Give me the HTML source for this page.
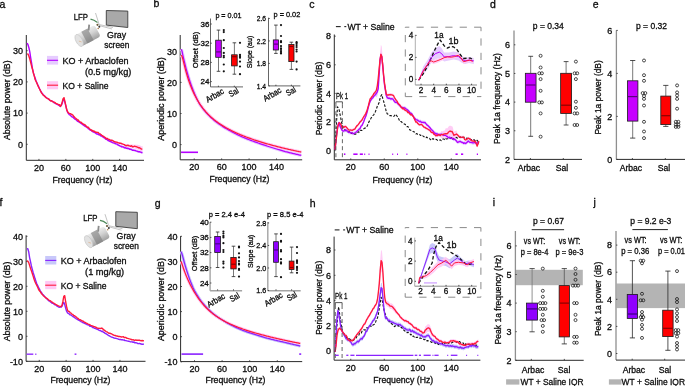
<!DOCTYPE html><html><head><meta charset="utf-8"><style>html,body{margin:0;padding:0;background:#fff;}svg{display:block;will-change:transform;}text{font-family:"Liberation Sans",sans-serif;fill:#0c0c0c;stroke:#0c0c0c;stroke-width:0.3px;}</style></head><body>
<svg width="685" height="386" viewBox="0 0 685 386">
<text x="-0.40" y="7.60" font-size="10.5" >a</text>
<text x="153.60" y="7.30" font-size="10.5" >b</text>
<text x="309.30" y="7.60" font-size="10.5" >c</text>
<text x="490.00" y="7.60" font-size="10.5" >d</text>
<text x="592.80" y="7.60" font-size="10.5" >e</text>
<text x="-0.40" y="206.00" font-size="10.5" >f</text>
<text x="154.80" y="207.00" font-size="10.5" >g</text>
<text x="309.80" y="206.50" font-size="10.5" >h</text>
<text x="492.80" y="206.00" font-size="10.5" >i</text>
<text x="593.50" y="206.00" font-size="10.5" >j</text>
<g transform="translate(0,0)">
<polygon points="106.3,10.5 127.8,11.1 127.8,27.5 106.3,25.1" fill="#a9a9a9" stroke="#3c3c3c" stroke-width="0.9"/>
<line x1="99" y1="24.5" x2="113" y2="27.5" stroke="#8a8a8a" stroke-width="0.5"/>
<line x1="99" y1="25.5" x2="112" y2="29" stroke="#8a8a8a" stroke-width="0.5"/>
<line x1="95.5" y1="13" x2="99" y2="24" stroke="#9a9a9a" stroke-width="0.6"/>
<path d="M90.5,19.2 L94,20.2 L97.5,22.5" fill="none" stroke="#4f8a5a" stroke-width="1.2"/>
<g transform="rotate(-28 87.5 36)"><defs><linearGradient id="cyl0" x1="0" y1="0" x2="0" y2="1"><stop offset="0" stop-color="#ededed"/><stop offset="0.45" stop-color="#d2d2d2"/><stop offset="1" stop-color="#a0a0a0"/></linearGradient></defs><rect x="77" y="29.4" width="22" height="13.2" rx="3" fill="url(#cyl0)"/><rect x="84" y="29.4" width="7" height="13.2" fill="#7c7c7c" opacity="0.6"/><ellipse cx="78" cy="36" rx="3.2" ry="6.6" fill="#e2e2e2" stroke="#c4c4c4" stroke-width="0.6"/><line x1="77.5" y1="36.5" x2="79.5" y2="38.5" stroke="#d9a070" stroke-width="0.5"/></g>
<line x1="88.6" y1="30.5" x2="89.2" y2="24.6" stroke="#8c8c8c" stroke-width="1.8"/>
<circle cx="97.5" cy="24.8" r="1.1" fill="#6b5a3a"/>
<circle cx="99.3" cy="26.8" r="1.0" fill="#3a3a3a"/>
<circle cx="98.2" cy="28.5" r="0.8" fill="#b08050"/>
</g>
<text x="73.70" y="19.60" font-size="8.6" textLength="14.30" lengthAdjust="spacingAndGlyphs" >LFP</text>
<text x="116.60" y="37.90" font-size="8.6" text-anchor="middle" textLength="19.10" lengthAdjust="spacingAndGlyphs" >Gray</text>
<text x="116.80" y="47.80" font-size="8.6" text-anchor="middle" textLength="25.10" lengthAdjust="spacingAndGlyphs" >screen</text>
<rect x="47.00" y="55.90" width="11.10" height="8.70" fill="#e6ccff" stroke="none" stroke-width="0.8" />
<line x1="47.00" y1="60.30" x2="58.10" y2="60.30" stroke="#b400ff" stroke-width="1.1" />
<rect x="47.00" y="81.20" width="11.10" height="8.10" fill="#ffc8f4" stroke="none" stroke-width="0.8" />
<line x1="47.00" y1="85.20" x2="58.10" y2="85.20" stroke="#ff1a3c" stroke-width="1.1" />
<text x="62.60" y="64.30" font-size="9" textLength="65.80" lengthAdjust="spacingAndGlyphs" >KO + Arbaclofen</text>
<text x="84.90" y="74.50" font-size="9" textLength="46.40" lengthAdjust="spacingAndGlyphs" >(0.5 mg/kg)</text>
<text x="62.60" y="88.60" font-size="9" textLength="45.80" lengthAdjust="spacingAndGlyphs" >KO + Saline</text>
<line x1="26.30" y1="35.00" x2="26.30" y2="160.30" stroke="#2a2a2a" stroke-width="1.0" />
<line x1="26.30" y1="144.30" x2="27.70" y2="144.30" stroke="#2a2a2a" stroke-width="0.8" />
<text x="23.10" y="147.50" font-size="9" text-anchor="end" >0</text>
<line x1="26.30" y1="113.10" x2="27.70" y2="113.10" stroke="#2a2a2a" stroke-width="0.8" />
<text x="23.10" y="116.30" font-size="9" text-anchor="end" >10</text>
<line x1="26.30" y1="81.90" x2="27.70" y2="81.90" stroke="#2a2a2a" stroke-width="0.8" />
<text x="23.10" y="85.10" font-size="9" text-anchor="end" >20</text>
<line x1="26.30" y1="50.70" x2="27.70" y2="50.70" stroke="#2a2a2a" stroke-width="0.8" />
<text x="23.10" y="53.90" font-size="9" text-anchor="end" >30</text>
<line x1="26.30" y1="160.30" x2="144.00" y2="160.30" stroke="#2a2a2a" stroke-width="1.0" />
<line x1="38.95" y1="160.30" x2="38.95" y2="158.90" stroke="#2a2a2a" stroke-width="0.8" />
<text x="38.95" y="170.90" font-size="9" text-anchor="middle" >20</text>
<line x1="65.85" y1="160.30" x2="65.85" y2="158.90" stroke="#2a2a2a" stroke-width="0.8" />
<text x="65.85" y="170.90" font-size="9" text-anchor="middle" >60</text>
<line x1="92.75" y1="160.30" x2="92.75" y2="158.90" stroke="#2a2a2a" stroke-width="0.8" />
<text x="92.75" y="170.90" font-size="9" text-anchor="middle" >100</text>
<line x1="119.65" y1="160.30" x2="119.65" y2="158.90" stroke="#2a2a2a" stroke-width="0.8" />
<text x="119.65" y="170.90" font-size="9" text-anchor="middle" >140</text>
<text x="82.50" y="183.40" font-size="8.8" text-anchor="middle" textLength="60.00" lengthAdjust="spacingAndGlyphs" >Frequency (Hz)</text>
<text x="9.70" y="100.20" font-size="9" text-anchor="middle" textLength="79.70" lengthAdjust="spacingAndGlyphs" transform="rotate(-90 9.70 100.20)" >Absolute power (dB)</text>
<polygon points="99.60,132.70 100.60,133.44 101.60,134.18 102.60,134.93 103.60,135.67 104.60,136.41 105.60,137.15 106.60,137.62 107.60,138.02 108.60,138.41 109.60,138.81 110.60,139.21 111.60,139.61 112.60,140.00 113.60,140.40 114.60,140.71 115.60,141.02 116.60,141.34 117.60,141.65 118.60,141.96 119.60,142.27 120.60,142.58 121.60,142.89 122.60,143.18 123.60,143.48 124.60,143.77 125.60,143.99 126.60,144.17 127.60,144.34 128.60,144.51 129.60,144.60 130.60,144.61 131.60,144.62 132.60,144.62 133.60,144.63 134.60,144.64 135.60,144.67 136.60,144.75 137.60,144.83 138.60,144.91 139.60,145.20 140.60,145.80 141.60,146.40 142.60,146.05 142.60,151.95 141.60,152.05 140.60,151.21 139.60,150.37 138.60,149.84 137.60,149.51 136.60,149.18 135.60,148.86 134.60,148.58 133.60,148.33 132.60,148.08 131.60,147.83 130.60,147.58 129.60,147.33 128.60,146.99 127.60,146.58 126.60,146.16 125.60,145.74 124.60,145.37 123.60,145.08 122.60,144.78 121.60,144.49 120.60,144.18 119.60,143.87 118.60,143.56 117.60,143.25 116.60,142.94 115.60,142.62 114.60,142.31 113.60,142.00 112.60,141.60 111.60,141.21 110.60,140.81 109.60,140.41 108.60,140.01 107.60,139.62 106.60,139.22 105.60,138.75 104.60,138.01 103.60,137.27 102.60,136.53 101.60,135.78 100.60,135.04 99.60,134.30" fill="#ffc8f4" opacity="1.0"/>
<polygon points="77.80,119.80 85.60,125.30 93.30,130.70 101.10,134.60 108.90,139.60 116.70,143.10 124.50,146.30 132.20,148.60 143.10,151.70 143.10,154.10 132.20,151.00 124.50,148.70 116.70,145.50 108.90,142.00 101.10,137.00 93.30,133.10 85.60,127.70 77.80,122.20" fill="#e6ccff" opacity="1.0"/>
<polyline points="27.10,43.10 28.00,44.70 28.90,47.76 29.80,51.93 30.70,57.86 31.60,63.23 32.50,68.84 33.40,72.68 34.30,75.66 35.20,78.19 36.10,80.97 37.00,82.98 37.90,85.08 38.80,86.98 39.70,89.11 40.60,90.75 41.50,92.44 42.40,93.54 43.30,94.78 44.20,95.50 45.10,96.65 46.00,97.28 46.90,98.02 47.80,98.71 48.70,99.05 49.60,100.02 50.50,100.86 51.40,100.69 52.30,101.23 53.20,101.81 54.10,102.78 55.00,103.13 55.90,103.79 56.80,104.19 57.70,104.57 58.60,105.12 59.50,105.73 60.40,106.52 61.30,105.38 62.20,103.19 63.10,99.98 64.00,99.19 64.90,102.22 65.80,105.93 66.70,109.51 67.60,112.41 68.50,113.69 69.40,114.84 70.30,114.97 71.20,116.31 72.10,117.00 73.00,117.19 73.90,118.18 74.80,119.05 75.70,119.49 76.60,120.32 77.50,121.26 78.40,121.49 79.30,122.03 80.20,122.57 81.10,123.49 82.00,123.95 82.90,124.58 83.80,125.22 84.70,126.00 85.60,126.29 86.50,126.84 87.40,127.31 88.30,128.70 89.20,129.13 90.10,130.07 91.00,130.40 91.90,130.86 92.80,131.68 93.70,132.11 94.60,132.38 95.50,132.90 96.40,133.86 97.30,133.99 98.20,134.42 99.10,134.71 100.00,135.07 100.90,135.87 101.80,136.20 102.70,136.63 103.60,137.35 104.50,137.80 105.40,138.63 106.30,139.43 107.20,139.62 108.10,140.62 109.00,140.72 109.90,141.35 110.80,141.59 111.70,142.13 112.60,142.58 113.50,142.87 114.40,143.20 115.30,143.57 116.20,143.92 117.10,144.16 118.00,144.81 118.90,145.33 119.80,145.81 120.70,146.14 121.60,146.88 122.50,146.81 123.40,147.00 124.30,147.80 125.20,147.53 126.10,148.23 127.00,148.13 127.90,148.65 128.80,148.44 129.70,149.27 130.60,149.31 131.50,149.41 132.40,150.19 133.30,150.27 134.20,150.38 135.10,150.48 136.00,150.88 136.90,151.11 137.80,151.54 138.70,151.81 139.60,151.78 140.50,152.05 141.40,152.31 142.30,152.90" fill="none" stroke="#b400ff" stroke-width="1.4" stroke-linejoin="round" />
<polyline points="27.10,54.10 28.00,54.05 28.90,56.19 29.80,59.03 30.70,62.52 31.60,66.19 32.50,69.27 33.40,73.19 34.30,76.08 35.20,79.79 36.10,81.47 37.00,83.57 37.90,85.65 38.80,87.51 39.70,89.26 40.60,91.12 41.50,92.86 42.40,93.95 43.30,95.27 44.20,95.83 45.10,96.63 46.00,97.71 46.90,98.13 47.80,98.49 48.70,99.16 49.60,99.90 50.50,100.80 51.40,100.78 52.30,101.30 53.20,102.10 54.10,102.08 55.00,102.67 55.90,103.39 56.80,103.74 57.70,104.06 58.60,104.73 59.50,104.63 60.40,106.30 61.30,104.96 62.20,102.09 63.10,98.80 64.00,97.64 64.90,101.31 65.80,105.34 66.70,109.63 67.60,111.71 68.50,112.98 69.40,113.38 70.30,113.67 71.20,114.30 72.10,114.54 73.00,115.27 73.90,116.57 74.80,117.52 75.70,118.24 76.60,118.96 77.50,120.00 78.40,120.04 79.30,121.51 80.20,122.10 81.10,122.19 82.00,123.23 82.90,123.59 83.80,124.63 84.70,124.56 85.60,125.47 86.50,126.56 87.40,127.38 88.30,127.28 89.20,128.41 90.10,129.29 91.00,129.66 91.90,130.75 92.80,130.49 93.70,131.25 94.60,131.25 95.50,132.18 96.40,132.14 97.30,132.38 98.20,132.40 99.10,133.68 100.00,133.94 100.90,134.54 101.80,135.33 102.70,135.89 103.60,136.40 104.50,137.06 105.40,137.65 106.30,138.70 107.20,138.43 108.10,139.04 109.00,139.47 109.90,139.95 110.80,140.36 111.70,140.22 112.60,140.42 113.50,141.16 114.40,141.78 115.30,141.96 116.20,142.12 117.10,142.26 118.00,142.69 118.90,142.82 119.80,143.36 120.70,143.22 121.60,143.73 122.50,143.94 123.40,144.39 124.30,144.59 125.20,145.46 126.10,145.47 127.00,145.73 127.90,145.10 128.80,145.74 129.70,145.86 130.60,146.30 131.50,145.72 132.40,146.68 133.30,146.74 134.20,146.24 135.10,146.43 136.00,146.60 136.90,146.94 137.80,147.24 138.70,147.82 139.60,147.67 140.50,148.53 141.40,149.12 142.30,149.00" fill="none" stroke="#ff1a3c" stroke-width="1.4" stroke-linejoin="round" />
<g transform="translate(9.5,201.2)">
<polygon points="106.3,10.5 127.8,11.1 127.8,27.5 106.3,25.1" fill="#a9a9a9" stroke="#3c3c3c" stroke-width="0.9"/>
<line x1="99" y1="24.5" x2="113" y2="27.5" stroke="#8a8a8a" stroke-width="0.5"/>
<line x1="99" y1="25.5" x2="112" y2="29" stroke="#8a8a8a" stroke-width="0.5"/>
<line x1="95.5" y1="13" x2="99" y2="24" stroke="#9a9a9a" stroke-width="0.6"/>
<path d="M90.5,19.2 L94,20.2 L97.5,22.5" fill="none" stroke="#4f8a5a" stroke-width="1.2"/>
<g transform="rotate(-28 87.5 36)"><defs><linearGradient id="cyl201" x1="0" y1="0" x2="0" y2="1"><stop offset="0" stop-color="#ededed"/><stop offset="0.45" stop-color="#d2d2d2"/><stop offset="1" stop-color="#a0a0a0"/></linearGradient></defs><rect x="77" y="29.4" width="22" height="13.2" rx="3" fill="url(#cyl201)"/><rect x="84" y="29.4" width="7" height="13.2" fill="#7c7c7c" opacity="0.6"/><ellipse cx="78" cy="36" rx="3.2" ry="6.6" fill="#e2e2e2" stroke="#c4c4c4" stroke-width="0.6"/><line x1="77.5" y1="36.5" x2="79.5" y2="38.5" stroke="#d9a070" stroke-width="0.5"/></g>
<line x1="88.6" y1="30.5" x2="89.2" y2="24.6" stroke="#8c8c8c" stroke-width="1.8"/>
<circle cx="97.5" cy="24.8" r="1.1" fill="#6b5a3a"/>
<circle cx="99.3" cy="26.8" r="1.0" fill="#3a3a3a"/>
<circle cx="98.2" cy="28.5" r="0.8" fill="#b08050"/>
</g>
<text x="83.20" y="220.80" font-size="8.6" textLength="14.30" lengthAdjust="spacingAndGlyphs" >LFP</text>
<text x="126.10" y="239.10" font-size="8.6" text-anchor="middle" textLength="19.10" lengthAdjust="spacingAndGlyphs" >Gray</text>
<text x="126.30" y="249.00" font-size="8.6" text-anchor="middle" textLength="25.10" lengthAdjust="spacingAndGlyphs" >screen</text>
<rect x="45.20" y="256.00" width="11.10" height="8.50" fill="#c8c8fa" stroke="none" stroke-width="0.8" />
<line x1="45.20" y1="260.40" x2="56.30" y2="260.40" stroke="#8a22ff" stroke-width="1.1" />
<rect x="45.20" y="280.90" width="11.10" height="8.30" fill="#ffc8f4" stroke="none" stroke-width="0.8" />
<line x1="45.20" y1="285.20" x2="56.30" y2="285.20" stroke="#ff1a3c" stroke-width="1.1" />
<text x="60.70" y="264.30" font-size="9" textLength="65.80" lengthAdjust="spacingAndGlyphs" >KO + Arbaclofen</text>
<text x="85.10" y="275.00" font-size="9" textLength="39.00" lengthAdjust="spacingAndGlyphs" >(1 mg/kg)</text>
<text x="60.70" y="289.20" font-size="9" textLength="45.80" lengthAdjust="spacingAndGlyphs" >KO + Saline</text>
<line x1="26.10" y1="235.30" x2="26.10" y2="361.30" stroke="#2a2a2a" stroke-width="1.0" />
<line x1="26.10" y1="361.30" x2="27.50" y2="361.30" stroke="#2a2a2a" stroke-width="0.8" />
<text x="22.90" y="364.50" font-size="9" text-anchor="end" >-10</text>
<line x1="26.10" y1="336.30" x2="27.50" y2="336.30" stroke="#2a2a2a" stroke-width="0.8" />
<text x="22.90" y="339.50" font-size="9" text-anchor="end" >0</text>
<line x1="26.10" y1="311.30" x2="27.50" y2="311.30" stroke="#2a2a2a" stroke-width="0.8" />
<text x="22.90" y="314.50" font-size="9" text-anchor="end" >10</text>
<line x1="26.10" y1="286.30" x2="27.50" y2="286.30" stroke="#2a2a2a" stroke-width="0.8" />
<text x="22.90" y="289.50" font-size="9" text-anchor="end" >20</text>
<line x1="26.10" y1="261.30" x2="27.50" y2="261.30" stroke="#2a2a2a" stroke-width="0.8" />
<text x="22.90" y="264.50" font-size="9" text-anchor="end" >30</text>
<line x1="26.10" y1="236.30" x2="27.50" y2="236.30" stroke="#2a2a2a" stroke-width="0.8" />
<text x="22.90" y="239.50" font-size="9" text-anchor="end" >40</text>
<line x1="26.10" y1="361.30" x2="145.50" y2="361.30" stroke="#2a2a2a" stroke-width="1.0" />
<line x1="39.25" y1="361.30" x2="39.25" y2="359.90" stroke="#2a2a2a" stroke-width="0.8" />
<text x="39.25" y="371.90" font-size="9" text-anchor="middle" >20</text>
<line x1="66.15" y1="361.30" x2="66.15" y2="359.90" stroke="#2a2a2a" stroke-width="0.8" />
<text x="66.15" y="371.90" font-size="9" text-anchor="middle" >60</text>
<line x1="93.05" y1="361.30" x2="93.05" y2="359.90" stroke="#2a2a2a" stroke-width="0.8" />
<text x="93.05" y="371.90" font-size="9" text-anchor="middle" >100</text>
<line x1="119.95" y1="361.30" x2="119.95" y2="359.90" stroke="#2a2a2a" stroke-width="0.8" />
<text x="119.95" y="371.90" font-size="9" text-anchor="middle" >140</text>
<text x="80.40" y="383.40" font-size="8.8" text-anchor="middle" textLength="60.00" lengthAdjust="spacingAndGlyphs" >Frequency (Hz)</text>
<text x="9.70" y="301.50" font-size="9" text-anchor="middle" textLength="79.70" lengthAdjust="spacingAndGlyphs" transform="rotate(-90 9.70 301.50)" >Absolute power (dB)</text>
<polyline points="26.90,248.90 27.80,248.71 28.70,251.80 29.60,257.57 30.50,261.71 31.40,265.95 32.30,269.39 33.20,272.73 34.10,275.37 35.00,278.57 35.90,281.17 36.80,283.76 37.70,285.64 38.60,287.68 39.50,289.10 40.40,291.47 41.30,292.06 42.20,293.92 43.10,294.77 44.00,295.72 44.90,296.76 45.80,297.70 46.70,298.79 47.60,299.55 48.50,300.68 49.40,300.77 50.30,301.82 51.20,302.28 52.10,303.22 53.00,303.20 53.90,304.09 54.80,304.71 55.70,304.87 56.60,305.88 57.50,306.23 58.40,306.88 59.30,307.27 60.20,307.13 61.10,307.15 62.00,306.29 62.90,303.78 63.80,302.29 64.70,304.58 65.60,307.87 66.50,310.95 67.40,312.66 68.30,313.48 69.20,313.98 70.10,314.90 71.00,314.98 71.90,315.68 72.80,316.48 73.70,316.85 74.60,317.59 75.50,318.26 76.40,318.97 77.30,319.09 78.20,320.15 79.10,320.31 80.00,320.91 80.90,321.53 81.80,321.98 82.70,322.53 83.60,322.83 84.50,323.25 85.40,323.77 86.30,323.95 87.20,324.83 88.10,324.87 89.00,325.20 89.90,326.29 90.80,326.29 91.70,326.52 92.60,327.57 93.50,327.59 94.40,328.33 95.30,328.42 96.20,329.00 97.10,329.16 98.00,329.55 98.90,330.14 99.80,330.58 100.70,330.80 101.60,331.44 102.50,331.27 103.40,332.28 104.30,332.61 105.20,333.36 106.10,333.74 107.00,334.36 107.90,335.07 108.80,335.50 109.70,336.17 110.60,336.43 111.50,337.18 112.40,337.29 113.30,337.60 114.20,338.08 115.10,338.23 116.00,338.39 116.90,338.64 117.80,338.87 118.70,339.32 119.60,339.45 120.50,339.54 121.40,339.80 122.30,339.70 123.20,340.10 124.10,339.91 125.00,340.66 125.90,340.61 126.80,340.84 127.70,341.13 128.60,341.21 129.50,341.37 130.40,341.85 131.30,341.83 132.20,341.82 133.10,342.27 134.00,342.03 134.90,342.88 135.80,342.69 136.70,342.91 137.60,343.53 138.50,343.68 139.40,343.45 140.30,343.73 141.20,343.99 142.10,344.29 143.00,344.10 143.90,344.30" fill="none" stroke="#8a22ff" stroke-width="1.4" stroke-linejoin="round" />
<polyline points="26.90,261.00 27.80,261.17 28.70,262.58 29.60,265.39 30.50,268.34 31.40,270.89 32.30,273.53 33.20,276.38 34.10,279.31 35.00,281.80 35.90,283.72 36.80,285.44 37.70,287.32 38.60,289.49 39.50,290.76 40.40,291.79 41.30,293.40 42.20,294.31 43.10,295.39 44.00,296.25 44.90,296.94 45.80,297.87 46.70,298.38 47.60,298.91 48.50,299.75 49.40,300.49 50.30,300.64 51.20,301.56 52.10,302.03 53.00,302.80 53.90,303.15 54.80,303.96 55.70,304.46 56.60,304.92 57.50,305.28 58.40,305.88 59.30,306.14 60.20,306.35 61.10,306.66 62.00,305.35 62.90,301.43 63.80,296.27 64.70,295.68 65.60,301.49 66.50,306.13 67.40,309.85 68.30,311.27 69.20,311.54 70.10,312.49 71.00,313.17 71.90,314.13 72.80,314.41 73.70,315.47 74.60,315.77 75.50,316.56 76.40,317.06 77.30,318.11 78.20,318.50 79.10,319.43 80.00,319.62 80.90,320.19 81.80,320.72 82.70,320.95 83.60,321.56 84.50,322.34 85.40,322.48 86.30,323.07 87.20,323.48 88.10,324.06 89.00,324.31 89.90,324.79 90.80,325.29 91.70,325.67 92.60,325.89 93.50,326.64 94.40,326.59 95.30,326.99 96.20,327.34 97.10,328.14 98.00,328.19 98.90,328.32 99.80,328.37 100.70,328.52 101.60,328.05 102.50,328.41 103.40,329.74 104.30,330.13 105.20,330.89 106.10,331.51 107.00,331.95 107.90,332.50 108.80,333.22 109.70,333.26 110.60,333.52 111.50,333.80 112.40,334.51 113.30,334.85 114.20,335.32 115.10,335.50 116.00,335.79 116.90,336.00 117.80,336.23 118.70,336.49 119.60,336.46 120.50,336.62 121.40,337.04 122.30,336.85 123.20,336.59 124.10,337.46 125.00,337.44 125.90,337.50 126.80,338.20 127.70,338.36 128.60,338.56 129.50,338.86 130.40,339.07 131.30,339.50 132.20,339.91 133.10,339.77 134.00,340.06 134.90,340.45 135.80,339.93 136.70,340.31 137.60,340.27 138.50,340.20 139.40,340.27 140.30,340.54 141.20,340.69 142.10,340.56 143.00,340.74 143.90,340.80" fill="none" stroke="#ff1a3c" stroke-width="1.4" stroke-linejoin="round" />
<line x1="26.60" y1="354.20" x2="33.30" y2="354.20" stroke="#9a3cff" stroke-width="1.5" />
<line x1="35.20" y1="354.20" x2="36.40" y2="354.20" stroke="#9a3cff" stroke-width="1.5" />
<line x1="74.60" y1="354.20" x2="76.40" y2="354.20" stroke="#9a3cff" stroke-width="1.6" />
<line x1="180.20" y1="35.00" x2="180.20" y2="159.80" stroke="#2a2a2a" stroke-width="1.0" />
<line x1="180.20" y1="144.60" x2="181.60" y2="144.60" stroke="#2a2a2a" stroke-width="0.8" />
<text x="177.00" y="147.80" font-size="9" text-anchor="end" >0</text>
<line x1="180.20" y1="113.50" x2="181.60" y2="113.50" stroke="#2a2a2a" stroke-width="0.8" />
<text x="177.00" y="116.70" font-size="9" text-anchor="end" >10</text>
<line x1="180.20" y1="82.40" x2="181.60" y2="82.40" stroke="#2a2a2a" stroke-width="0.8" />
<text x="177.00" y="85.60" font-size="9" text-anchor="end" >20</text>
<line x1="180.20" y1="51.30" x2="181.60" y2="51.30" stroke="#2a2a2a" stroke-width="0.8" />
<text x="177.00" y="54.50" font-size="9" text-anchor="end" >30</text>
<line x1="180.20" y1="159.80" x2="302.20" y2="159.80" stroke="#2a2a2a" stroke-width="1.0" />
<line x1="194.22" y1="159.80" x2="194.22" y2="158.40" stroke="#2a2a2a" stroke-width="0.8" />
<text x="194.22" y="170.40" font-size="9" text-anchor="middle" >20</text>
<line x1="221.65" y1="159.80" x2="221.65" y2="158.40" stroke="#2a2a2a" stroke-width="0.8" />
<text x="221.65" y="170.40" font-size="9" text-anchor="middle" >60</text>
<line x1="249.08" y1="159.80" x2="249.08" y2="158.40" stroke="#2a2a2a" stroke-width="0.8" />
<text x="249.08" y="170.40" font-size="9" text-anchor="middle" >100</text>
<line x1="276.51" y1="159.80" x2="276.51" y2="158.40" stroke="#2a2a2a" stroke-width="0.8" />
<text x="276.51" y="170.40" font-size="9" text-anchor="middle" >140</text>
<text x="239.40" y="182.40" font-size="8.8" text-anchor="middle" textLength="60.00" lengthAdjust="spacingAndGlyphs" >Frequency (Hz)</text>
<text x="164.40" y="99.00" font-size="9" text-anchor="middle" textLength="83.50" lengthAdjust="spacingAndGlyphs" transform="rotate(-90 164.40 99.00)" >Aperiodic power (dB)</text>
<polyline points="181.30,49.29 182.10,51.56 182.90,55.32 183.70,58.80 184.50,62.19 185.30,65.46 186.10,68.56 186.90,71.50 187.70,74.26 188.50,76.87 189.30,79.39 190.10,81.86 190.90,84.21 191.70,86.45 192.50,88.59 193.30,90.63 194.10,92.59 194.90,94.47 195.70,96.28 196.50,98.01 197.30,99.69 198.10,101.28 198.90,102.69 199.70,104.05 200.50,105.29 201.30,106.45 202.10,107.56 202.90,108.63 203.70,109.66 204.50,110.65 205.30,111.60 206.10,112.53 206.90,113.42 207.70,114.28 208.50,115.11 209.30,115.91 210.10,116.69 210.90,117.45 211.70,118.18 212.50,118.89 213.30,119.58 214.10,120.25 214.90,120.90 215.70,121.54 216.50,122.16 217.30,122.76 218.10,123.35 218.90,123.92 219.70,124.49 220.50,125.03 221.30,125.57 222.10,126.10 222.90,126.61 223.70,127.11 224.50,127.61 225.30,128.09 226.10,128.56 226.90,129.03 227.70,129.48 228.50,129.93 229.30,130.37 230.10,130.81 230.90,131.25 231.70,131.69 232.50,132.12 233.30,132.55 234.10,132.97 234.90,133.38 235.70,133.79 236.50,134.19 237.30,134.58 238.10,134.97 238.90,135.35 239.70,135.73 240.50,136.11 241.30,136.48 242.10,136.84 242.90,137.20 243.70,137.54 244.50,137.87 245.30,138.20 246.10,138.53 246.90,138.85 247.70,139.16 248.50,139.48 249.30,139.79 250.10,140.09 250.90,140.39 251.70,140.69 252.50,140.99 253.30,141.28 254.10,141.57 254.90,141.86 255.70,142.14 256.50,142.43 257.30,142.71 258.10,143.00 258.90,143.28 259.70,143.56 260.50,143.83 261.30,144.10 262.10,144.37 262.90,144.64 263.70,144.91 264.50,145.17 265.30,145.43 266.10,145.70 266.90,145.97 267.70,146.23 268.50,146.49 269.30,146.75 270.10,147.01 270.90,147.27 271.70,147.52 272.50,147.77 273.30,148.02 274.10,148.27 274.90,148.52 275.70,148.76 276.50,149.01 277.30,149.25 278.10,149.49 278.90,149.72 279.70,149.96 280.50,150.20 281.30,150.43 282.10,150.66 282.90,150.89 283.70,151.12 284.50,151.35 285.30,151.57 286.10,151.77 286.90,151.97 287.70,152.17 288.50,152.37 289.30,152.57 290.10,152.77 290.90,152.96 291.70,153.15 292.50,153.35 293.30,153.54 294.10,153.73 294.90,153.92 295.70,154.11 296.50,154.29 297.30,154.48 298.10,154.67 298.90,154.85 299.70,155.03 300.50,155.21 301.30,155.39" fill="none" stroke="#e6ccff" stroke-width="3.2" stroke-linejoin="round" />
<polyline points="181.30,55.09 182.10,56.51 182.90,59.42 183.70,62.69 184.50,65.94 185.30,69.08 186.10,72.05 186.90,74.85 187.70,77.48 188.50,79.96 189.30,82.29 190.10,84.49 190.90,86.58 191.70,88.55 192.50,90.42 193.30,92.20 194.10,93.89 194.90,95.50 195.70,97.04 196.50,98.51 197.30,99.92 198.10,101.27 198.90,102.56 199.70,103.79 200.50,104.98 201.30,106.12 202.10,107.21 202.90,108.27 203.70,109.28 204.50,110.26 205.30,111.20 206.10,112.11 206.90,112.98 207.70,113.82 208.50,114.64 209.30,115.43 210.10,116.19 210.90,116.93 211.70,117.64 212.50,118.34 213.30,119.01 214.10,119.67 214.90,120.30 215.70,120.92 216.50,121.53 217.30,122.11 218.10,122.69 218.90,123.25 219.70,123.79 220.50,124.32 221.30,124.84 222.10,125.35 222.90,125.85 223.70,126.34 224.50,126.82 225.30,127.28 226.10,127.74 226.90,128.19 227.70,128.63 228.50,129.06 229.30,129.49 230.10,129.90 230.90,130.31 231.70,130.71 232.50,131.11 233.30,131.50 234.10,131.88 234.90,132.25 235.70,132.62 236.50,132.99 237.30,133.34 238.10,133.70 238.90,134.04 239.70,134.39 240.50,134.72 241.30,135.06 242.10,135.38 242.90,135.71 243.70,136.02 244.50,136.34 245.30,136.65 246.10,136.96 246.90,137.26 247.70,137.56 248.50,137.85 249.30,138.14 250.10,138.43 250.90,138.71 251.70,138.99 252.50,139.27 253.30,139.54 254.10,139.82 254.90,140.08 255.70,140.35 256.50,140.61 257.30,140.87 258.10,141.13 258.90,141.38 259.70,141.63 260.50,141.88 261.30,142.13 262.10,142.37 262.90,142.61 263.70,142.85 264.50,143.09 265.30,143.32 266.10,143.55 266.90,143.78 267.70,144.01 268.50,144.24 269.30,144.46 270.10,144.68 270.90,144.90 271.70,145.12 272.50,145.34 273.30,145.55 274.10,145.76 274.90,145.97 275.70,146.18 276.50,146.39 277.30,146.59 278.10,146.80 278.90,147.00 279.70,147.20 280.50,147.40 281.30,147.60 282.10,147.79 282.90,147.99 283.70,148.18 284.50,148.37 285.30,148.56 286.10,148.75 286.90,148.94 287.70,149.12 288.50,149.31 289.30,149.49 290.10,149.67 290.90,149.85 291.70,150.03 292.50,150.21 293.30,150.39 294.10,150.56 294.90,150.74 295.70,150.91 296.50,151.09 297.30,151.26 298.10,151.43 298.90,151.60 299.70,151.76 300.50,151.93 301.30,152.10" fill="none" stroke="#ffc8f4" stroke-width="3.2" stroke-linejoin="round" />
<polyline points="181.30,49.29 182.10,51.56 182.90,55.32 183.70,58.80 184.50,62.19 185.30,65.46 186.10,68.56 186.90,71.50 187.70,74.26 188.50,76.87 189.30,79.39 190.10,81.86 190.90,84.21 191.70,86.45 192.50,88.59 193.30,90.63 194.10,92.59 194.90,94.47 195.70,96.28 196.50,98.01 197.30,99.69 198.10,101.28 198.90,102.69 199.70,104.05 200.50,105.29 201.30,106.45 202.10,107.56 202.90,108.63 203.70,109.66 204.50,110.65 205.30,111.60 206.10,112.53 206.90,113.42 207.70,114.28 208.50,115.11 209.30,115.91 210.10,116.69 210.90,117.45 211.70,118.18 212.50,118.89 213.30,119.58 214.10,120.25 214.90,120.90 215.70,121.54 216.50,122.16 217.30,122.76 218.10,123.35 218.90,123.92 219.70,124.49 220.50,125.03 221.30,125.57 222.10,126.10 222.90,126.61 223.70,127.11 224.50,127.61 225.30,128.09 226.10,128.56 226.90,129.03 227.70,129.48 228.50,129.93 229.30,130.37 230.10,130.81 230.90,131.25 231.70,131.69 232.50,132.12 233.30,132.55 234.10,132.97 234.90,133.38 235.70,133.79 236.50,134.19 237.30,134.58 238.10,134.97 238.90,135.35 239.70,135.73 240.50,136.11 241.30,136.48 242.10,136.84 242.90,137.20 243.70,137.54 244.50,137.87 245.30,138.20 246.10,138.53 246.90,138.85 247.70,139.16 248.50,139.48 249.30,139.79 250.10,140.09 250.90,140.39 251.70,140.69 252.50,140.99 253.30,141.28 254.10,141.57 254.90,141.86 255.70,142.14 256.50,142.43 257.30,142.71 258.10,143.00 258.90,143.28 259.70,143.56 260.50,143.83 261.30,144.10 262.10,144.37 262.90,144.64 263.70,144.91 264.50,145.17 265.30,145.43 266.10,145.70 266.90,145.97 267.70,146.23 268.50,146.49 269.30,146.75 270.10,147.01 270.90,147.27 271.70,147.52 272.50,147.77 273.30,148.02 274.10,148.27 274.90,148.52 275.70,148.76 276.50,149.01 277.30,149.25 278.10,149.49 278.90,149.72 279.70,149.96 280.50,150.20 281.30,150.43 282.10,150.66 282.90,150.89 283.70,151.12 284.50,151.35 285.30,151.57 286.10,151.77 286.90,151.97 287.70,152.17 288.50,152.37 289.30,152.57 290.10,152.77 290.90,152.96 291.70,153.15 292.50,153.35 293.30,153.54 294.10,153.73 294.90,153.92 295.70,154.11 296.50,154.29 297.30,154.48 298.10,154.67 298.90,154.85 299.70,155.03 300.50,155.21 301.30,155.39" fill="none" stroke="#b400ff" stroke-width="1.25" stroke-linejoin="round" />
<polyline points="181.30,55.09 182.10,56.51 182.90,59.42 183.70,62.69 184.50,65.94 185.30,69.08 186.10,72.05 186.90,74.85 187.70,77.48 188.50,79.96 189.30,82.29 190.10,84.49 190.90,86.58 191.70,88.55 192.50,90.42 193.30,92.20 194.10,93.89 194.90,95.50 195.70,97.04 196.50,98.51 197.30,99.92 198.10,101.27 198.90,102.56 199.70,103.79 200.50,104.98 201.30,106.12 202.10,107.21 202.90,108.27 203.70,109.28 204.50,110.26 205.30,111.20 206.10,112.11 206.90,112.98 207.70,113.82 208.50,114.64 209.30,115.43 210.10,116.19 210.90,116.93 211.70,117.64 212.50,118.34 213.30,119.01 214.10,119.67 214.90,120.30 215.70,120.92 216.50,121.53 217.30,122.11 218.10,122.69 218.90,123.25 219.70,123.79 220.50,124.32 221.30,124.84 222.10,125.35 222.90,125.85 223.70,126.34 224.50,126.82 225.30,127.28 226.10,127.74 226.90,128.19 227.70,128.63 228.50,129.06 229.30,129.49 230.10,129.90 230.90,130.31 231.70,130.71 232.50,131.11 233.30,131.50 234.10,131.88 234.90,132.25 235.70,132.62 236.50,132.99 237.30,133.34 238.10,133.70 238.90,134.04 239.70,134.39 240.50,134.72 241.30,135.06 242.10,135.38 242.90,135.71 243.70,136.02 244.50,136.34 245.30,136.65 246.10,136.96 246.90,137.26 247.70,137.56 248.50,137.85 249.30,138.14 250.10,138.43 250.90,138.71 251.70,138.99 252.50,139.27 253.30,139.54 254.10,139.82 254.90,140.08 255.70,140.35 256.50,140.61 257.30,140.87 258.10,141.13 258.90,141.38 259.70,141.63 260.50,141.88 261.30,142.13 262.10,142.37 262.90,142.61 263.70,142.85 264.50,143.09 265.30,143.32 266.10,143.55 266.90,143.78 267.70,144.01 268.50,144.24 269.30,144.46 270.10,144.68 270.90,144.90 271.70,145.12 272.50,145.34 273.30,145.55 274.10,145.76 274.90,145.97 275.70,146.18 276.50,146.39 277.30,146.59 278.10,146.80 278.90,147.00 279.70,147.20 280.50,147.40 281.30,147.60 282.10,147.79 282.90,147.99 283.70,148.18 284.50,148.37 285.30,148.56 286.10,148.75 286.90,148.94 287.70,149.12 288.50,149.31 289.30,149.49 290.10,149.67 290.90,149.85 291.70,150.03 292.50,150.21 293.30,150.39 294.10,150.56 294.90,150.74 295.70,150.91 296.50,151.09 297.30,151.26 298.10,151.43 298.90,151.60 299.70,151.76 300.50,151.93 301.30,152.10" fill="none" stroke="#ff1a3c" stroke-width="1.25" stroke-linejoin="round" />
<line x1="181.00" y1="152.30" x2="198.00" y2="152.30" stroke="#b400ff" stroke-width="1.6" />
<line x1="210.50" y1="18.50" x2="210.50" y2="86.90" stroke="#555" stroke-width="0.9" />
<line x1="210.50" y1="86.90" x2="243.00" y2="86.90" stroke="#555" stroke-width="0.9" />
<line x1="210.50" y1="81.60" x2="211.80" y2="81.60" stroke="#2a2a2a" stroke-width="0.8" />
<text x="209.40" y="84.30" font-size="8.0" text-anchor="end" >24</text>
<line x1="210.50" y1="62.40" x2="211.80" y2="62.40" stroke="#2a2a2a" stroke-width="0.8" />
<text x="209.40" y="65.10" font-size="8.0" text-anchor="end" >28</text>
<line x1="210.50" y1="43.20" x2="211.80" y2="43.20" stroke="#2a2a2a" stroke-width="0.8" />
<text x="209.40" y="45.90" font-size="8.0" text-anchor="end" >32</text>
<line x1="210.50" y1="24.00" x2="211.80" y2="24.00" stroke="#2a2a2a" stroke-width="0.8" />
<text x="209.40" y="26.70" font-size="8.0" text-anchor="end" >36</text>
<text x="198.00" y="50.00" font-size="7.8" text-anchor="middle" textLength="36.40" lengthAdjust="spacingAndGlyphs" transform="rotate(-90 198.00 50.00)" >Offset (dB)</text>
<text x="228.45" y="17.80" font-size="8.0" text-anchor="middle" textLength="26.10" lengthAdjust="spacingAndGlyphs" >p = 0.01</text>
<line x1="218.50" y1="30.10" x2="218.50" y2="40.20" stroke="#555" stroke-width="0.8" />
<line x1="218.50" y1="57.30" x2="218.50" y2="71.30" stroke="#555" stroke-width="0.8" />
<line x1="216.70" y1="30.10" x2="220.30" y2="30.10" stroke="#222" stroke-width="0.8" />
<line x1="216.70" y1="71.30" x2="220.30" y2="71.30" stroke="#222" stroke-width="0.8" />
<rect x="215.70" y="40.20" width="5.60" height="17.10" fill="#c600ff" stroke="#1a1a1a" stroke-width="0.8" />
<line x1="216.10" y1="51.90" x2="220.90" y2="51.90" stroke="#5a007f" stroke-width="1.2" />
<line x1="234.40" y1="42.80" x2="234.40" y2="54.80" stroke="#555" stroke-width="0.8" />
<line x1="234.40" y1="65.90" x2="234.40" y2="74.20" stroke="#555" stroke-width="0.8" />
<line x1="232.60" y1="42.80" x2="236.20" y2="42.80" stroke="#222" stroke-width="0.8" />
<line x1="232.60" y1="74.20" x2="236.20" y2="74.20" stroke="#222" stroke-width="0.8" />
<rect x="231.60" y="54.80" width="5.60" height="11.10" fill="#ff0000" stroke="#1a1a1a" stroke-width="0.8" />
<line x1="232.00" y1="56.70" x2="236.80" y2="56.70" stroke="#8a0000" stroke-width="1.2" />
<circle cx="223.80" cy="30.10" r="1.1" fill="#111"/>
<circle cx="223.80" cy="32.10" r="1.1" fill="#111"/>
<circle cx="223.80" cy="40.20" r="1.1" fill="#111"/>
<circle cx="223.80" cy="48.00" r="1.1" fill="#111"/>
<circle cx="223.80" cy="52.90" r="1.1" fill="#111"/>
<circle cx="223.80" cy="55.80" r="1.1" fill="#111"/>
<circle cx="223.80" cy="57.30" r="1.1" fill="#111"/>
<circle cx="223.80" cy="64.50" r="1.1" fill="#111"/>
<circle cx="223.80" cy="71.30" r="1.1" fill="#111"/>
<circle cx="240.00" cy="42.80" r="1.1" fill="#111"/>
<circle cx="240.00" cy="54.80" r="1.1" fill="#111"/>
<circle cx="240.00" cy="56.20" r="1.1" fill="#111"/>
<circle cx="240.00" cy="57.70" r="1.1" fill="#111"/>
<circle cx="240.00" cy="61.60" r="1.1" fill="#111"/>
<circle cx="240.00" cy="66.50" r="1.1" fill="#111"/>
<circle cx="240.00" cy="74.20" r="1.1" fill="#111"/>
<line x1="218.40" y1="86.90" x2="218.40" y2="85.70" stroke="#2a2a2a" stroke-width="0.8" />
<line x1="234.30" y1="86.90" x2="234.30" y2="85.70" stroke="#2a2a2a" stroke-width="0.8" />
<line x1="268.50" y1="17.70" x2="268.50" y2="85.90" stroke="#555" stroke-width="0.9" />
<line x1="268.50" y1="85.90" x2="300.40" y2="85.90" stroke="#555" stroke-width="0.9" />
<line x1="268.50" y1="85.90" x2="269.80" y2="85.90" stroke="#2a2a2a" stroke-width="0.8" />
<text x="266.10" y="88.60" font-size="8.0" text-anchor="end" textLength="9.30" lengthAdjust="spacingAndGlyphs" >1.4</text>
<line x1="268.50" y1="63.42" x2="269.80" y2="63.42" stroke="#2a2a2a" stroke-width="0.8" />
<text x="266.10" y="66.12" font-size="8.0" text-anchor="end" textLength="9.30" lengthAdjust="spacingAndGlyphs" >1.8</text>
<line x1="268.50" y1="40.94" x2="269.80" y2="40.94" stroke="#2a2a2a" stroke-width="0.8" />
<text x="266.10" y="43.64" font-size="8.0" text-anchor="end" textLength="9.30" lengthAdjust="spacingAndGlyphs" >2.2</text>
<line x1="268.50" y1="18.46" x2="269.80" y2="18.46" stroke="#2a2a2a" stroke-width="0.8" />
<text x="266.10" y="21.16" font-size="8.0" text-anchor="end" textLength="9.30" lengthAdjust="spacingAndGlyphs" >2.6</text>
<text x="251.60" y="52.00" font-size="7.8" text-anchor="middle" textLength="32.50" lengthAdjust="spacingAndGlyphs" transform="rotate(-90 251.60 52.00)" >Slope (au)</text>
<text x="286.90" y="16.80" font-size="8.0" text-anchor="middle" textLength="26.80" lengthAdjust="spacingAndGlyphs" >p = 0.02</text>
<line x1="275.90" y1="25.10" x2="275.90" y2="39.90" stroke="#555" stroke-width="0.8" />
<line x1="275.90" y1="50.00" x2="275.90" y2="53.40" stroke="#555" stroke-width="0.8" />
<line x1="274.10" y1="25.10" x2="277.70" y2="25.10" stroke="#222" stroke-width="0.8" />
<line x1="274.10" y1="53.40" x2="277.70" y2="53.40" stroke="#222" stroke-width="0.8" />
<rect x="273.30" y="39.90" width="5.20" height="10.10" fill="#c600ff" stroke="#1a1a1a" stroke-width="0.8" />
<line x1="273.70" y1="44.10" x2="278.10" y2="44.10" stroke="#5a007f" stroke-width="1.2" />
<line x1="291.40" y1="42.20" x2="291.40" y2="44.50" stroke="#555" stroke-width="0.8" />
<line x1="291.40" y1="61.60" x2="291.40" y2="69.40" stroke="#555" stroke-width="0.8" />
<line x1="289.60" y1="42.20" x2="293.20" y2="42.20" stroke="#222" stroke-width="0.8" />
<line x1="289.60" y1="69.40" x2="293.20" y2="69.40" stroke="#222" stroke-width="0.8" />
<rect x="288.80" y="44.50" width="5.20" height="17.10" fill="#ff0000" stroke="#1a1a1a" stroke-width="0.8" />
<line x1="289.20" y1="46.50" x2="293.60" y2="46.50" stroke="#8a0000" stroke-width="1.2" />
<circle cx="281.00" cy="25.10" r="1.1" fill="#111"/>
<circle cx="281.00" cy="36.00" r="1.1" fill="#111"/>
<circle cx="281.00" cy="41.20" r="1.1" fill="#111"/>
<circle cx="281.00" cy="42.20" r="1.1" fill="#111"/>
<circle cx="281.00" cy="46.10" r="1.1" fill="#111"/>
<circle cx="281.00" cy="48.40" r="1.1" fill="#111"/>
<circle cx="281.00" cy="50.00" r="1.1" fill="#111"/>
<circle cx="281.00" cy="51.90" r="1.1" fill="#111"/>
<circle cx="281.00" cy="53.40" r="1.1" fill="#111"/>
<circle cx="296.60" cy="42.20" r="1.1" fill="#111"/>
<circle cx="296.60" cy="43.20" r="1.1" fill="#111"/>
<circle cx="296.60" cy="45.10" r="1.1" fill="#111"/>
<circle cx="296.60" cy="47.00" r="1.1" fill="#111"/>
<circle cx="296.60" cy="49.60" r="1.1" fill="#111"/>
<circle cx="296.60" cy="51.50" r="1.1" fill="#111"/>
<circle cx="296.60" cy="61.60" r="1.1" fill="#111"/>
<circle cx="296.60" cy="69.40" r="1.1" fill="#111"/>
<line x1="275.90" y1="85.90" x2="275.90" y2="84.70" stroke="#2a2a2a" stroke-width="0.8" />
<line x1="291.40" y1="85.90" x2="291.40" y2="84.70" stroke="#2a2a2a" stroke-width="0.8" />
<text x="224.60" y="93.00" font-size="8.5" text-anchor="end" textLength="19.50" lengthAdjust="spacingAndGlyphs" transform="rotate(-30 224.60 93.00)" >Arbac</text>
<text x="239.30" y="92.30" font-size="8.5" text-anchor="end" textLength="10.00" lengthAdjust="spacingAndGlyphs" transform="rotate(-30 239.30 92.30)" >Sal</text>
<text x="282.10" y="92.00" font-size="8.5" text-anchor="end" textLength="19.50" lengthAdjust="spacingAndGlyphs" transform="rotate(-30 282.10 92.00)" >Arbac</text>
<text x="296.70" y="91.30" font-size="8.5" text-anchor="end" textLength="10.00" lengthAdjust="spacingAndGlyphs" transform="rotate(-30 296.70 91.30)" >Sal</text>
<line x1="180.60" y1="236.10" x2="180.60" y2="361.60" stroke="#2a2a2a" stroke-width="1.0" />
<line x1="180.60" y1="361.80" x2="182.00" y2="361.80" stroke="#2a2a2a" stroke-width="0.8" />
<text x="177.40" y="365.00" font-size="9" text-anchor="end" >-10</text>
<line x1="180.60" y1="336.70" x2="182.00" y2="336.70" stroke="#2a2a2a" stroke-width="0.8" />
<text x="177.40" y="339.90" font-size="9" text-anchor="end" >0</text>
<line x1="180.60" y1="311.60" x2="182.00" y2="311.60" stroke="#2a2a2a" stroke-width="0.8" />
<text x="177.40" y="314.80" font-size="9" text-anchor="end" >10</text>
<line x1="180.60" y1="286.50" x2="182.00" y2="286.50" stroke="#2a2a2a" stroke-width="0.8" />
<text x="177.40" y="289.70" font-size="9" text-anchor="end" >20</text>
<line x1="180.60" y1="261.40" x2="182.00" y2="261.40" stroke="#2a2a2a" stroke-width="0.8" />
<text x="177.40" y="264.60" font-size="9" text-anchor="end" >30</text>
<line x1="180.60" y1="236.30" x2="182.00" y2="236.30" stroke="#2a2a2a" stroke-width="0.8" />
<text x="177.40" y="239.50" font-size="9" text-anchor="end" >40</text>
<line x1="180.60" y1="361.60" x2="302.20" y2="361.60" stroke="#2a2a2a" stroke-width="1.0" />
<line x1="194.50" y1="361.60" x2="194.50" y2="360.20" stroke="#2a2a2a" stroke-width="0.8" />
<text x="194.50" y="372.20" font-size="9" text-anchor="middle" >20</text>
<line x1="222.10" y1="361.60" x2="222.10" y2="360.20" stroke="#2a2a2a" stroke-width="0.8" />
<text x="222.10" y="372.20" font-size="9" text-anchor="middle" >60</text>
<line x1="249.70" y1="361.60" x2="249.70" y2="360.20" stroke="#2a2a2a" stroke-width="0.8" />
<text x="249.70" y="372.20" font-size="9" text-anchor="middle" >100</text>
<line x1="277.30" y1="361.60" x2="277.30" y2="360.20" stroke="#2a2a2a" stroke-width="0.8" />
<text x="277.30" y="372.20" font-size="9" text-anchor="middle" >140</text>
<text x="235.40" y="383.30" font-size="8.8" text-anchor="middle" textLength="60.00" lengthAdjust="spacingAndGlyphs" >Frequency (Hz)</text>
<text x="164.40" y="299.60" font-size="9" text-anchor="middle" textLength="83.00" lengthAdjust="spacingAndGlyphs" transform="rotate(-90 164.40 299.60)" >Aperiodic power (dB)</text>
<polyline points="181.10,251.59 181.90,253.78 182.70,256.29 183.50,259.44 184.30,262.49 185.10,265.35 185.90,268.01 186.70,270.57 187.50,273.05 188.30,275.42 189.10,277.72 189.90,279.96 190.70,282.07 191.50,284.04 192.30,285.95 193.10,287.82 193.90,289.42 194.70,290.95 195.50,292.39 196.30,293.76 197.10,295.09 197.90,296.37 198.70,297.62 199.50,298.83 200.30,299.97 201.10,301.03 201.90,302.06 202.70,303.06 203.50,304.02 204.30,304.96 205.10,305.86 205.90,306.74 206.70,307.59 207.50,308.42 208.30,309.22 209.10,310.00 209.90,310.75 210.70,311.48 211.50,312.18 212.30,312.87 213.10,313.53 213.90,314.18 214.70,314.81 215.50,315.42 216.30,316.02 217.10,316.60 217.90,317.16 218.70,317.71 219.50,318.25 220.30,318.77 221.10,319.28 221.90,319.78 222.70,320.29 223.50,320.79 224.30,321.28 225.10,321.76 225.90,322.23 226.70,322.69 227.50,323.14 228.30,323.59 229.10,324.03 229.90,324.46 230.70,324.87 231.50,325.27 232.30,325.67 233.10,326.06 233.90,326.44 234.70,326.82 235.50,327.19 236.30,327.56 237.10,327.92 237.90,328.28 238.70,328.63 239.50,328.97 240.30,329.32 241.10,329.65 241.90,329.99 242.70,330.32 243.50,330.64 244.30,330.94 245.10,331.22 245.90,331.51 246.70,331.79 247.50,332.07 248.30,332.35 249.10,332.62 249.90,332.89 250.70,333.15 251.50,333.42 252.30,333.68 253.10,333.93 253.90,334.19 254.70,334.44 255.50,334.69 256.30,334.94 257.10,335.19 257.90,335.44 258.70,335.70 259.50,335.95 260.30,336.19 261.10,336.44 261.90,336.68 262.70,336.93 263.50,337.17 264.30,337.41 265.10,337.64 265.90,337.85 266.70,338.06 267.50,338.26 268.30,338.47 269.10,338.67 269.90,338.87 270.70,339.07 271.50,339.27 272.30,339.47 273.10,339.66 273.90,339.85 274.70,340.05 275.50,340.24 276.30,340.43 277.10,340.62 277.90,340.80 278.70,340.99 279.50,341.18 280.30,341.36 281.10,341.54 281.90,341.72 282.70,341.90 283.50,342.08 284.30,342.26 285.10,342.44 285.90,342.64 286.70,342.83 287.50,343.03 288.30,343.22 289.10,343.42 289.90,343.61 290.70,343.80 291.50,343.99 292.30,344.18 293.10,344.37 293.90,344.56 294.70,344.74 295.50,344.93 296.30,345.12 297.10,345.30 297.90,345.48 298.70,345.67 299.50,345.85 300.30,346.03" fill="none" stroke="#c8c8fa" stroke-width="3.0" stroke-linejoin="round" />
<polyline points="181.10,261.59 181.90,263.73 182.70,266.09 183.50,268.44 184.30,270.69 185.10,272.85 185.90,274.91 186.70,276.87 187.50,278.75 188.30,280.54 189.10,282.26 189.90,283.92 190.70,285.51 191.50,287.05 192.30,288.54 193.10,289.97 193.90,291.37 194.70,292.71 195.50,294.02 196.30,295.28 197.10,296.49 197.90,297.67 198.70,298.80 199.50,299.90 200.30,300.96 201.10,301.98 201.90,302.97 202.70,303.92 203.50,304.85 204.30,305.74 205.10,306.61 205.90,307.45 206.70,308.26 207.50,309.04 208.30,309.80 209.10,310.54 209.90,311.26 210.70,311.95 211.50,312.62 212.30,313.27 213.10,313.91 213.90,314.52 214.70,315.12 215.50,315.69 216.30,316.26 217.10,316.80 217.90,317.33 218.70,317.85 219.50,318.35 220.30,318.84 221.10,319.32 221.90,319.78 222.70,320.23 223.50,320.67 224.30,321.10 225.10,321.52 225.90,321.94 226.70,322.34 227.50,322.73 228.30,323.12 229.10,323.49 229.90,323.86 230.70,324.23 231.50,324.58 232.30,324.93 233.10,325.27 233.90,325.61 234.70,325.94 235.50,326.26 236.30,326.58 237.10,326.90 237.90,327.21 238.70,327.51 239.50,327.81 240.30,328.11 241.10,328.40 241.90,328.68 242.70,328.97 243.50,329.24 244.30,329.52 245.10,329.79 245.90,330.06 246.70,330.32 247.50,330.58 248.30,330.84 249.10,331.09 249.90,331.34 250.70,331.59 251.50,331.84 252.30,332.08 253.10,332.32 253.90,332.56 254.70,332.79 255.50,333.02 256.30,333.25 257.10,333.48 257.90,333.71 258.70,333.93 259.50,334.15 260.30,334.37 261.10,334.58 261.90,334.80 262.70,335.01 263.50,335.22 264.30,335.43 265.10,335.64 265.90,335.84 266.70,336.05 267.50,336.25 268.30,336.45 269.10,336.65 269.90,336.85 270.70,337.04 271.50,337.24 272.30,337.43 273.10,337.62 273.90,337.81 274.70,338.00 275.50,338.19 276.30,338.37 277.10,338.56 277.90,338.74 278.70,338.92 279.50,339.10 280.30,339.28 281.10,339.46 281.90,339.64 282.70,339.81 283.50,339.99 284.30,340.16 285.10,340.34 285.90,340.51 286.70,340.68 287.50,340.85 288.30,341.02 289.10,341.19 289.90,341.36 290.70,341.52 291.50,341.69 292.30,341.85 293.10,342.02 293.90,342.18 294.70,342.34 295.50,342.50 296.30,342.66 297.10,342.82 297.90,342.98 298.70,343.14 299.50,343.30 300.30,343.45" fill="none" stroke="#ffc8f4" stroke-width="3.0" stroke-linejoin="round" />
<polyline points="181.10,251.59 181.90,253.78 182.70,256.29 183.50,259.44 184.30,262.49 185.10,265.35 185.90,268.01 186.70,270.57 187.50,273.05 188.30,275.42 189.10,277.72 189.90,279.96 190.70,282.07 191.50,284.04 192.30,285.95 193.10,287.82 193.90,289.42 194.70,290.95 195.50,292.39 196.30,293.76 197.10,295.09 197.90,296.37 198.70,297.62 199.50,298.83 200.30,299.97 201.10,301.03 201.90,302.06 202.70,303.06 203.50,304.02 204.30,304.96 205.10,305.86 205.90,306.74 206.70,307.59 207.50,308.42 208.30,309.22 209.10,310.00 209.90,310.75 210.70,311.48 211.50,312.18 212.30,312.87 213.10,313.53 213.90,314.18 214.70,314.81 215.50,315.42 216.30,316.02 217.10,316.60 217.90,317.16 218.70,317.71 219.50,318.25 220.30,318.77 221.10,319.28 221.90,319.78 222.70,320.29 223.50,320.79 224.30,321.28 225.10,321.76 225.90,322.23 226.70,322.69 227.50,323.14 228.30,323.59 229.10,324.03 229.90,324.46 230.70,324.87 231.50,325.27 232.30,325.67 233.10,326.06 233.90,326.44 234.70,326.82 235.50,327.19 236.30,327.56 237.10,327.92 237.90,328.28 238.70,328.63 239.50,328.97 240.30,329.32 241.10,329.65 241.90,329.99 242.70,330.32 243.50,330.64 244.30,330.94 245.10,331.22 245.90,331.51 246.70,331.79 247.50,332.07 248.30,332.35 249.10,332.62 249.90,332.89 250.70,333.15 251.50,333.42 252.30,333.68 253.10,333.93 253.90,334.19 254.70,334.44 255.50,334.69 256.30,334.94 257.10,335.19 257.90,335.44 258.70,335.70 259.50,335.95 260.30,336.19 261.10,336.44 261.90,336.68 262.70,336.93 263.50,337.17 264.30,337.41 265.10,337.64 265.90,337.85 266.70,338.06 267.50,338.26 268.30,338.47 269.10,338.67 269.90,338.87 270.70,339.07 271.50,339.27 272.30,339.47 273.10,339.66 273.90,339.85 274.70,340.05 275.50,340.24 276.30,340.43 277.10,340.62 277.90,340.80 278.70,340.99 279.50,341.18 280.30,341.36 281.10,341.54 281.90,341.72 282.70,341.90 283.50,342.08 284.30,342.26 285.10,342.44 285.90,342.64 286.70,342.83 287.50,343.03 288.30,343.22 289.10,343.42 289.90,343.61 290.70,343.80 291.50,343.99 292.30,344.18 293.10,344.37 293.90,344.56 294.70,344.74 295.50,344.93 296.30,345.12 297.10,345.30 297.90,345.48 298.70,345.67 299.50,345.85 300.30,346.03" fill="none" stroke="#8a22ff" stroke-width="1.25" stroke-linejoin="round" />
<polyline points="181.10,261.59 181.90,263.73 182.70,266.09 183.50,268.44 184.30,270.69 185.10,272.85 185.90,274.91 186.70,276.87 187.50,278.75 188.30,280.54 189.10,282.26 189.90,283.92 190.70,285.51 191.50,287.05 192.30,288.54 193.10,289.97 193.90,291.37 194.70,292.71 195.50,294.02 196.30,295.28 197.10,296.49 197.90,297.67 198.70,298.80 199.50,299.90 200.30,300.96 201.10,301.98 201.90,302.97 202.70,303.92 203.50,304.85 204.30,305.74 205.10,306.61 205.90,307.45 206.70,308.26 207.50,309.04 208.30,309.80 209.10,310.54 209.90,311.26 210.70,311.95 211.50,312.62 212.30,313.27 213.10,313.91 213.90,314.52 214.70,315.12 215.50,315.69 216.30,316.26 217.10,316.80 217.90,317.33 218.70,317.85 219.50,318.35 220.30,318.84 221.10,319.32 221.90,319.78 222.70,320.23 223.50,320.67 224.30,321.10 225.10,321.52 225.90,321.94 226.70,322.34 227.50,322.73 228.30,323.12 229.10,323.49 229.90,323.86 230.70,324.23 231.50,324.58 232.30,324.93 233.10,325.27 233.90,325.61 234.70,325.94 235.50,326.26 236.30,326.58 237.10,326.90 237.90,327.21 238.70,327.51 239.50,327.81 240.30,328.11 241.10,328.40 241.90,328.68 242.70,328.97 243.50,329.24 244.30,329.52 245.10,329.79 245.90,330.06 246.70,330.32 247.50,330.58 248.30,330.84 249.10,331.09 249.90,331.34 250.70,331.59 251.50,331.84 252.30,332.08 253.10,332.32 253.90,332.56 254.70,332.79 255.50,333.02 256.30,333.25 257.10,333.48 257.90,333.71 258.70,333.93 259.50,334.15 260.30,334.37 261.10,334.58 261.90,334.80 262.70,335.01 263.50,335.22 264.30,335.43 265.10,335.64 265.90,335.84 266.70,336.05 267.50,336.25 268.30,336.45 269.10,336.65 269.90,336.85 270.70,337.04 271.50,337.24 272.30,337.43 273.10,337.62 273.90,337.81 274.70,338.00 275.50,338.19 276.30,338.37 277.10,338.56 277.90,338.74 278.70,338.92 279.50,339.10 280.30,339.28 281.10,339.46 281.90,339.64 282.70,339.81 283.50,339.99 284.30,340.16 285.10,340.34 285.90,340.51 286.70,340.68 287.50,340.85 288.30,341.02 289.10,341.19 289.90,341.36 290.70,341.52 291.50,341.69 292.30,341.85 293.10,342.02 293.90,342.18 294.70,342.34 295.50,342.50 296.30,342.66 297.10,342.82 297.90,342.98 298.70,343.14 299.50,343.30 300.30,343.45" fill="none" stroke="#ff1a3c" stroke-width="1.25" stroke-linejoin="round" />
<line x1="181.50" y1="354.10" x2="203.10" y2="354.10" stroke="#8a22ff" stroke-width="1.6" />
<line x1="299.20" y1="354.10" x2="301.20" y2="354.10" stroke="#8a22ff" stroke-width="1.6" />
<line x1="210.10" y1="222.00" x2="210.10" y2="290.70" stroke="#a4a4a4" stroke-width="1.4" />
<line x1="210.10" y1="290.70" x2="242.10" y2="290.70" stroke="#a4a4a4" stroke-width="1.4" />
<line x1="210.10" y1="283.00" x2="211.40" y2="283.00" stroke="#2a2a2a" stroke-width="0.8" />
<text x="208.80" y="285.70" font-size="8.0" text-anchor="end" >24</text>
<line x1="210.10" y1="267.80" x2="211.40" y2="267.80" stroke="#2a2a2a" stroke-width="0.8" />
<text x="208.80" y="270.50" font-size="8.0" text-anchor="end" >28</text>
<line x1="210.10" y1="252.60" x2="211.40" y2="252.60" stroke="#2a2a2a" stroke-width="0.8" />
<text x="208.80" y="255.30" font-size="8.0" text-anchor="end" >32</text>
<line x1="210.10" y1="237.40" x2="211.40" y2="237.40" stroke="#2a2a2a" stroke-width="0.8" />
<text x="208.80" y="240.10" font-size="8.0" text-anchor="end" >36</text>
<line x1="210.10" y1="222.20" x2="211.40" y2="222.20" stroke="#2a2a2a" stroke-width="0.8" />
<text x="208.80" y="224.90" font-size="8.0" text-anchor="end" >40</text>
<text x="197.00" y="253.50" font-size="7.8" text-anchor="middle" textLength="35.60" lengthAdjust="spacingAndGlyphs" transform="rotate(-90 197.00 253.50)" >Offset (dB)</text>
<text x="226.80" y="217.30" font-size="8.0" text-anchor="middle" textLength="36.30" lengthAdjust="spacingAndGlyphs" >p = 2.4 e-4</text>
<line x1="217.60" y1="232.00" x2="217.60" y2="236.40" stroke="#555" stroke-width="0.8" />
<line x1="217.60" y1="252.60" x2="217.60" y2="267.50" stroke="#555" stroke-width="0.8" />
<line x1="215.80" y1="232.00" x2="219.40" y2="232.00" stroke="#222" stroke-width="0.8" />
<line x1="215.80" y1="267.50" x2="219.40" y2="267.50" stroke="#222" stroke-width="0.8" />
<rect x="214.70" y="236.40" width="5.80" height="16.20" fill="#9000ff" stroke="#1a1a1a" stroke-width="0.8" />
<line x1="215.10" y1="243.80" x2="220.10" y2="243.80" stroke="#4a0090" stroke-width="1.2" />
<line x1="233.50" y1="246.20" x2="233.50" y2="257.40" stroke="#555" stroke-width="0.8" />
<line x1="233.50" y1="268.90" x2="233.50" y2="276.60" stroke="#555" stroke-width="0.8" />
<line x1="231.70" y1="246.20" x2="235.30" y2="246.20" stroke="#222" stroke-width="0.8" />
<line x1="231.70" y1="276.60" x2="235.30" y2="276.60" stroke="#222" stroke-width="0.8" />
<rect x="230.80" y="257.40" width="5.40" height="11.50" fill="#ff0000" stroke="#1a1a1a" stroke-width="0.8" />
<line x1="231.20" y1="264.20" x2="235.80" y2="264.20" stroke="#8a0000" stroke-width="1.2" />
<circle cx="223.40" cy="231.60" r="1.1" fill="#111"/>
<circle cx="223.40" cy="233.50" r="1.1" fill="#111"/>
<circle cx="223.40" cy="235.90" r="1.1" fill="#111"/>
<circle cx="223.40" cy="237.40" r="1.1" fill="#111"/>
<circle cx="223.40" cy="243.20" r="1.1" fill="#111"/>
<circle cx="223.40" cy="250.00" r="1.1" fill="#111"/>
<circle cx="223.40" cy="252.00" r="1.1" fill="#111"/>
<circle cx="223.40" cy="261.70" r="1.1" fill="#111"/>
<circle cx="223.40" cy="263.60" r="1.1" fill="#111"/>
<circle cx="223.40" cy="267.50" r="1.1" fill="#111"/>
<circle cx="239.00" cy="246.70" r="1.1" fill="#111"/>
<circle cx="239.00" cy="247.50" r="1.1" fill="#111"/>
<circle cx="239.00" cy="253.30" r="1.1" fill="#111"/>
<circle cx="239.00" cy="257.40" r="1.1" fill="#111"/>
<circle cx="239.00" cy="261.10" r="1.1" fill="#111"/>
<circle cx="239.00" cy="263.60" r="1.1" fill="#111"/>
<circle cx="239.00" cy="264.60" r="1.1" fill="#111"/>
<circle cx="239.00" cy="268.90" r="1.1" fill="#111"/>
<circle cx="239.00" cy="270.00" r="1.1" fill="#111"/>
<circle cx="239.00" cy="276.60" r="1.1" fill="#111"/>
<line x1="217.60" y1="290.50" x2="217.60" y2="289.30" stroke="#2a2a2a" stroke-width="0.8" />
<line x1="233.50" y1="290.50" x2="233.50" y2="289.30" stroke="#2a2a2a" stroke-width="0.8" />
<line x1="267.80" y1="222.00" x2="267.80" y2="290.70" stroke="#a4a4a4" stroke-width="1.4" />
<line x1="267.80" y1="290.70" x2="300.70" y2="290.70" stroke="#a4a4a4" stroke-width="1.4" />
<line x1="267.80" y1="290.50" x2="269.10" y2="290.50" stroke="#2a2a2a" stroke-width="0.8" />
<text x="266.30" y="293.20" font-size="8.0" text-anchor="end" textLength="10.00" lengthAdjust="spacingAndGlyphs" >1.6</text>
<line x1="267.80" y1="267.98" x2="269.10" y2="267.98" stroke="#2a2a2a" stroke-width="0.8" />
<text x="266.30" y="270.68" font-size="8.0" text-anchor="end" textLength="10.00" lengthAdjust="spacingAndGlyphs" >2.0</text>
<line x1="267.80" y1="245.46" x2="269.10" y2="245.46" stroke="#2a2a2a" stroke-width="0.8" />
<text x="266.30" y="248.16" font-size="8.0" text-anchor="end" textLength="10.00" lengthAdjust="spacingAndGlyphs" >2.4</text>
<line x1="267.80" y1="222.94" x2="269.10" y2="222.94" stroke="#2a2a2a" stroke-width="0.8" />
<text x="266.30" y="225.64" font-size="8.0" text-anchor="end" textLength="10.00" lengthAdjust="spacingAndGlyphs" >2.8</text>
<text x="253.00" y="251.40" font-size="7.8" text-anchor="middle" textLength="33.20" lengthAdjust="spacingAndGlyphs" transform="rotate(-90 253.00 251.40)" >Slope (au)</text>
<text x="285.20" y="217.30" font-size="8.0" text-anchor="middle" textLength="36.30" lengthAdjust="spacingAndGlyphs" >p = 8.5 e-4</text>
<line x1="276.00" y1="233.90" x2="276.00" y2="241.70" stroke="#555" stroke-width="0.8" />
<line x1="276.00" y1="262.30" x2="276.00" y2="276.60" stroke="#555" stroke-width="0.8" />
<line x1="274.20" y1="233.90" x2="277.80" y2="233.90" stroke="#222" stroke-width="0.8" />
<line x1="274.20" y1="276.60" x2="277.80" y2="276.60" stroke="#222" stroke-width="0.8" />
<rect x="273.60" y="241.70" width="4.80" height="20.60" fill="#9000ff" stroke="#1a1a1a" stroke-width="0.8" />
<line x1="274.00" y1="250.00" x2="278.00" y2="250.00" stroke="#4a0090" stroke-width="1.2" />
<line x1="291.60" y1="247.10" x2="291.60" y2="261.10" stroke="#555" stroke-width="0.8" />
<line x1="291.60" y1="269.50" x2="291.60" y2="272.80" stroke="#555" stroke-width="0.8" />
<line x1="289.80" y1="247.10" x2="293.40" y2="247.10" stroke="#222" stroke-width="0.8" />
<line x1="289.80" y1="272.80" x2="293.40" y2="272.80" stroke="#222" stroke-width="0.8" />
<rect x="289.20" y="261.10" width="4.80" height="8.40" fill="#ff0000" stroke="#1a1a1a" stroke-width="0.8" />
<line x1="289.60" y1="267.50" x2="293.60" y2="267.50" stroke="#8a0000" stroke-width="1.2" />
<circle cx="281.00" cy="233.90" r="1.1" fill="#111"/>
<circle cx="281.00" cy="240.90" r="1.1" fill="#111"/>
<circle cx="281.00" cy="241.70" r="1.1" fill="#111"/>
<circle cx="281.00" cy="250.00" r="1.1" fill="#111"/>
<circle cx="281.00" cy="251.40" r="1.1" fill="#111"/>
<circle cx="281.00" cy="259.20" r="1.1" fill="#111"/>
<circle cx="281.00" cy="262.30" r="1.1" fill="#111"/>
<circle cx="281.00" cy="263.60" r="1.1" fill="#111"/>
<circle cx="281.00" cy="277.20" r="1.1" fill="#111"/>
<circle cx="297.00" cy="247.10" r="1.1" fill="#111"/>
<circle cx="297.00" cy="253.00" r="1.1" fill="#111"/>
<circle cx="297.00" cy="260.30" r="1.1" fill="#111"/>
<circle cx="297.00" cy="261.70" r="1.1" fill="#111"/>
<circle cx="297.00" cy="263.00" r="1.1" fill="#111"/>
<circle cx="297.00" cy="266.90" r="1.1" fill="#111"/>
<circle cx="297.00" cy="268.10" r="1.1" fill="#111"/>
<circle cx="297.00" cy="270.00" r="1.1" fill="#111"/>
<circle cx="297.00" cy="272.80" r="1.1" fill="#111"/>
<line x1="276.00" y1="290.50" x2="276.00" y2="289.30" stroke="#2a2a2a" stroke-width="0.8" />
<line x1="291.60" y1="290.50" x2="291.60" y2="289.30" stroke="#2a2a2a" stroke-width="0.8" />
<text x="225.80" y="297.90" font-size="8.5" text-anchor="end" textLength="19.50" lengthAdjust="spacingAndGlyphs" transform="rotate(-30 225.80 297.90)" >Arbac</text>
<text x="240.30" y="297.20" font-size="8.5" text-anchor="end" textLength="10.00" lengthAdjust="spacingAndGlyphs" transform="rotate(-30 240.30 297.20)" >Sal</text>
<text x="283.30" y="296.90" font-size="8.5" text-anchor="end" textLength="19.50" lengthAdjust="spacingAndGlyphs" transform="rotate(-30 283.30 296.90)" >Arbac</text>
<text x="297.70" y="296.20" font-size="8.5" text-anchor="end" textLength="10.00" lengthAdjust="spacingAndGlyphs" transform="rotate(-30 297.70 296.20)" >Sal</text>
<line x1="334.30" y1="34.50" x2="334.30" y2="159.80" stroke="#2a2a2a" stroke-width="1.0" />
<line x1="334.30" y1="150.60" x2="335.70" y2="150.60" stroke="#2a2a2a" stroke-width="0.8" />
<text x="331.10" y="153.80" font-size="9" text-anchor="end" >0</text>
<line x1="334.30" y1="122.00" x2="335.70" y2="122.00" stroke="#2a2a2a" stroke-width="0.8" />
<text x="331.10" y="125.20" font-size="9" text-anchor="end" >2</text>
<line x1="334.30" y1="93.40" x2="335.70" y2="93.40" stroke="#2a2a2a" stroke-width="0.8" />
<text x="331.10" y="96.60" font-size="9" text-anchor="end" >4</text>
<line x1="334.30" y1="64.80" x2="335.70" y2="64.80" stroke="#2a2a2a" stroke-width="0.8" />
<text x="331.10" y="68.00" font-size="9" text-anchor="end" >6</text>
<line x1="334.30" y1="36.20" x2="335.70" y2="36.20" stroke="#2a2a2a" stroke-width="0.8" />
<text x="331.10" y="39.40" font-size="9" text-anchor="end" >8</text>
<line x1="334.30" y1="159.80" x2="481.00" y2="159.80" stroke="#2a2a2a" stroke-width="1.0" />
<line x1="350.75" y1="159.80" x2="350.75" y2="158.40" stroke="#2a2a2a" stroke-width="0.8" />
<text x="350.75" y="170.40" font-size="9" text-anchor="middle" >20</text>
<line x1="384.25" y1="159.80" x2="384.25" y2="158.40" stroke="#2a2a2a" stroke-width="0.8" />
<text x="384.25" y="170.40" font-size="9" text-anchor="middle" >60</text>
<line x1="417.75" y1="159.80" x2="417.75" y2="158.40" stroke="#2a2a2a" stroke-width="0.8" />
<text x="417.75" y="170.40" font-size="9" text-anchor="middle" >100</text>
<line x1="451.25" y1="159.80" x2="451.25" y2="158.40" stroke="#2a2a2a" stroke-width="0.8" />
<text x="451.25" y="170.40" font-size="9" text-anchor="middle" >140</text>
<text x="402.40" y="182.90" font-size="8.8" text-anchor="middle" textLength="60.00" lengthAdjust="spacingAndGlyphs" >Frequency (Hz)</text>
<text x="321.60" y="98.40" font-size="9" text-anchor="middle" textLength="73.50" lengthAdjust="spacingAndGlyphs" transform="rotate(-90 321.60 98.40)" >Periodic power (dB)</text>
<line x1="335.90" y1="26.60" x2="340.70" y2="26.60" stroke="#222" stroke-width="1.1" />
<line x1="344.30" y1="26.60" x2="346.30" y2="26.60" stroke="#222" stroke-width="1.1" />
<text x="347.40" y="29.80" font-size="9" textLength="47.20" lengthAdjust="spacingAndGlyphs" >WT + Saline</text>
<polygon points="335.00,147.80 335.90,139.41 336.80,131.49 337.70,125.59 338.60,120.96 339.50,122.63 340.40,125.49 341.30,126.86 342.20,128.77 343.10,129.49 344.00,128.91 344.90,128.85 345.80,127.94 346.70,129.12 347.60,129.22 348.50,130.56 349.40,130.57 350.30,130.91 351.20,130.87 352.10,131.43 353.00,131.77 353.90,131.74 354.80,131.18 355.70,130.70 356.60,129.89 357.50,128.99 358.40,128.20 359.30,127.15 360.20,126.57 361.10,124.26 362.00,123.63 362.90,121.64 363.80,119.65 364.70,116.91 365.60,114.88 366.50,112.39 367.40,109.21 368.30,105.51 369.20,102.29 370.10,99.71 371.00,98.10 371.90,96.64 372.80,96.06 373.70,94.57 374.60,93.70 375.50,92.71 376.40,88.96 377.30,87.52 378.20,84.42 379.10,71.24 380.00,56.07 380.90,50.33 381.80,52.54 382.70,60.67 383.60,71.69 384.50,80.56 385.40,85.73 386.30,91.12 387.20,95.68 388.10,96.52 389.00,96.23 389.90,96.61 390.80,97.18 391.70,96.95 392.60,97.02 393.50,98.03 394.40,99.62 395.30,100.51 396.20,100.42 397.10,100.92 398.00,102.09 398.90,102.95 399.80,103.81 400.70,104.87 401.60,105.64 402.50,105.67 403.40,106.18 404.30,105.97 405.20,106.32 406.10,107.19 407.00,107.72 407.90,108.41 408.80,109.40 409.70,110.49 410.60,111.53 411.50,111.67 412.40,113.06 413.30,114.64 414.20,116.13 415.10,116.72 416.00,118.13 416.90,118.03 417.80,118.57 418.70,119.22 419.60,119.85 420.50,119.45 421.40,120.57 422.30,120.52 423.20,120.49 424.10,120.93 425.00,120.53 425.90,121.90 426.80,123.02 427.70,123.54 428.60,124.50 429.50,125.39 430.40,126.37 431.30,127.74 432.20,128.40 433.10,129.34 434.00,130.48 434.90,131.68 435.80,131.49 436.70,132.44 437.60,132.11 438.50,133.04 439.40,132.70 440.30,132.83 441.20,132.39 442.10,132.37 443.00,133.37 443.90,133.65 444.80,133.41 445.70,133.55 446.60,134.57 447.50,134.71 448.40,136.06 449.30,135.37 450.20,135.84 451.10,136.42 452.00,136.25 452.90,136.65 453.80,137.67 454.70,137.39 455.60,138.29 456.50,139.13 457.40,140.54 458.30,140.26 459.20,139.82 460.10,139.46 461.00,140.16 461.90,140.63 462.80,140.71 463.70,141.60 464.60,141.07 465.50,141.65 466.40,141.09 467.30,140.26 468.20,139.13 469.10,139.95 470.00,140.50 470.90,140.58 471.80,140.66 472.70,141.03 473.60,141.04 474.50,140.63 475.40,141.10 476.30,141.75 477.20,140.90 478.10,141.32 479.00,141.30 479.00,144.90 478.10,144.92 477.20,144.50 476.30,145.35 475.40,144.70 474.50,144.23 473.60,144.64 472.70,144.63 471.80,144.26 470.90,144.18 470.00,144.10 469.10,143.55 468.20,142.73 467.30,143.86 466.40,144.69 465.50,145.25 464.60,144.67 463.70,145.20 462.80,144.31 461.90,144.23 461.00,143.76 460.10,143.06 459.20,143.42 458.30,143.86 457.40,144.14 456.50,142.73 455.60,141.89 454.70,140.99 453.80,141.27 452.90,140.25 452.00,139.85 451.10,140.02 450.20,139.44 449.30,138.97 448.40,139.66 447.50,138.31 446.60,138.17 445.70,137.15 444.80,137.01 443.90,137.25 443.00,136.97 442.10,135.97 441.20,135.99 440.30,136.43 439.40,136.30 438.50,136.64 437.60,135.71 436.70,136.04 435.80,135.09 434.90,135.28 434.00,134.08 433.10,132.94 432.20,132.00 431.30,131.34 430.40,129.97 429.50,128.99 428.60,128.10 427.70,127.14 426.80,126.62 425.90,125.50 425.00,124.13 424.10,124.53 423.20,124.09 422.30,124.12 421.40,124.17 420.50,123.05 419.60,123.45 418.70,122.82 417.80,122.17 416.90,121.63 416.00,121.73 415.10,120.32 414.20,119.73 413.30,118.24 412.40,116.66 411.50,115.27 410.60,115.13 409.70,114.09 408.80,113.00 407.90,112.01 407.00,111.32 406.10,110.79 405.20,109.92 404.30,109.57 403.40,109.78 402.50,109.27 401.60,109.24 400.70,108.47 399.80,107.41 398.90,106.55 398.00,105.69 397.10,104.52 396.20,104.02 395.30,104.11 394.40,103.22 393.50,101.63 392.60,100.62 391.70,100.55 390.80,100.78 389.90,100.21 389.00,99.83 388.10,100.12 387.20,99.28 386.30,99.72 385.40,94.33 384.50,89.16 383.60,80.29 382.70,69.27 381.80,61.14 380.90,58.93 380.00,64.67 379.10,79.84 378.20,93.02 377.30,96.12 376.40,97.56 375.50,96.31 374.60,97.30 373.70,98.17 372.80,99.66 371.90,100.24 371.00,101.70 370.10,103.31 369.20,105.89 368.30,109.11 367.40,112.81 366.50,115.99 365.60,118.48 364.70,120.51 363.80,123.25 362.90,125.24 362.00,127.23 361.10,127.86 360.20,130.17 359.30,130.75 358.40,131.80 357.50,132.59 356.60,133.49 355.70,134.30 354.80,134.78 353.90,135.34 353.00,135.37 352.10,135.03 351.20,134.47 350.30,134.51 349.40,134.17 348.50,134.16 347.60,132.82 346.70,132.72 345.80,131.54 344.90,132.45 344.00,132.51 343.10,133.09 342.20,132.37 341.30,130.46 340.40,129.09 339.50,126.23 338.60,124.56 337.70,129.19 336.80,135.09 335.90,143.01 335.00,151.40" fill="#e6ccff" opacity="1.0"/>
<polygon points="335.00,148.10 335.90,140.48 336.80,132.82 337.70,125.22 338.60,122.15 339.50,121.33 340.40,122.19 341.30,123.92 342.20,126.56 343.10,125.18 344.00,125.90 344.90,124.90 345.80,125.11 346.70,126.05 347.60,127.19 348.50,128.26 349.40,128.59 350.30,128.45 351.20,128.68 352.10,128.97 353.00,128.32 353.90,127.98 354.80,127.65 355.70,126.16 356.60,124.60 357.50,123.88 358.40,122.89 359.30,121.52 360.20,120.24 361.10,119.45 362.00,118.43 362.90,116.71 363.80,115.05 364.70,113.83 365.60,112.34 366.50,110.37 367.40,107.60 368.30,104.53 369.20,100.84 370.10,97.38 371.00,96.36 371.90,95.12 372.80,94.22 373.70,92.18 374.60,91.27 375.50,90.14 376.40,88.75 377.30,84.31 378.20,73.35 379.10,63.90 380.00,54.68 380.90,44.74 381.80,46.70 382.70,59.08 383.60,69.51 384.50,81.33 385.40,87.41 386.30,92.81 387.20,93.47 388.10,93.74 389.00,93.07 389.90,93.35 390.80,93.05 391.70,93.32 392.60,93.57 393.50,94.03 394.40,96.04 395.30,97.30 396.20,98.88 397.10,99.79 398.00,101.61 398.90,102.71 399.80,103.51 400.70,104.87 401.60,106.16 402.50,107.19 403.40,106.67 404.30,108.19 405.20,108.70 406.10,109.19 407.00,109.59 407.90,111.10 408.80,110.94 409.70,112.30 410.60,113.28 411.50,113.01 412.40,114.20 413.30,114.86 414.20,116.97 415.10,118.97 416.00,120.71 416.90,120.50 417.80,122.05 418.70,122.87 419.60,123.33 420.50,123.08 421.40,122.83 422.30,123.68 423.20,124.69 424.10,125.67 425.00,125.88 425.90,126.66 426.80,127.02 427.70,127.53 428.60,128.20 429.50,128.55 430.40,129.53 431.30,130.80 432.20,130.98 433.10,131.22 434.00,132.82 434.90,133.09 435.80,134.21 436.70,134.05 437.60,134.01 438.50,132.96 439.40,133.52 440.30,134.12 441.20,131.10 442.10,131.17 443.00,131.31 443.90,130.51 444.80,130.45 445.70,128.26 446.60,128.28 447.50,128.13 448.40,126.70 449.30,125.96 450.20,125.53 451.10,126.14 452.00,125.88 452.90,127.59 453.80,131.85 454.70,131.24 455.60,131.07 456.50,130.48 457.40,133.30 458.30,134.23 459.20,135.28 460.10,135.43 461.00,135.77 461.90,135.81 462.80,135.70 463.70,135.55 464.60,137.97 465.50,138.50 466.40,138.08 467.30,137.37 468.20,136.68 469.10,137.19 470.00,137.28 470.90,138.48 471.80,139.20 472.70,139.56 473.60,139.40 474.50,140.23 475.40,139.66 476.30,142.29 477.20,144.65 478.10,142.01 479.00,139.80 479.00,142.80 478.10,145.01 477.20,147.65 476.30,145.29 475.40,142.66 474.50,143.23 473.60,142.40 472.70,142.56 471.80,142.20 470.90,141.48 470.00,140.28 469.10,140.19 468.20,139.68 467.30,140.37 466.40,141.08 465.50,141.50 464.60,140.97 463.70,138.55 462.80,138.70 461.90,138.81 461.00,138.77 460.10,138.43 459.20,138.28 458.30,137.23 457.40,136.30 456.50,137.48 455.60,138.07 454.70,138.24 453.80,138.85 452.90,138.59 452.00,136.88 451.10,137.14 450.20,136.53 449.30,136.96 448.40,137.70 447.50,139.13 446.60,139.28 445.70,139.26 444.80,137.45 443.90,137.51 443.00,138.31 442.10,138.17 441.20,138.10 440.30,137.12 439.40,136.52 438.50,135.96 437.60,137.01 436.70,137.05 435.80,137.21 434.90,136.09 434.00,135.82 433.10,134.22 432.20,133.98 431.30,133.80 430.40,132.53 429.50,131.55 428.60,131.20 427.70,130.53 426.80,130.02 425.90,129.66 425.00,128.88 424.10,128.67 423.20,127.69 422.30,126.68 421.40,125.83 420.50,126.08 419.60,126.33 418.70,125.87 417.80,125.05 416.90,123.50 416.00,123.71 415.10,121.97 414.20,119.97 413.30,117.86 412.40,117.20 411.50,116.01 410.60,116.28 409.70,115.30 408.80,113.94 407.90,114.10 407.00,112.59 406.10,112.19 405.20,111.70 404.30,111.19 403.40,109.67 402.50,110.19 401.60,109.16 400.70,107.87 399.80,106.51 398.90,105.71 398.00,104.61 397.10,102.79 396.20,101.88 395.30,100.30 394.40,99.04 393.50,97.03 392.60,96.57 391.70,96.32 390.80,96.05 389.90,96.35 389.00,96.07 388.10,96.74 387.20,96.47 386.30,95.81 385.40,90.41 384.50,84.33 383.60,80.51 382.70,70.08 381.80,65.70 380.90,63.74 380.00,65.68 379.10,74.90 378.20,84.35 377.30,87.31 376.40,91.75 375.50,93.14 374.60,94.27 373.70,95.18 372.80,97.22 371.90,98.12 371.00,99.36 370.10,100.38 369.20,103.84 368.30,107.53 367.40,110.60 366.50,113.37 365.60,115.34 364.70,116.83 363.80,118.05 362.90,119.71 362.00,121.43 361.10,122.45 360.20,123.24 359.30,124.52 358.40,125.89 357.50,126.88 356.60,127.60 355.70,129.16 354.80,130.65 353.90,130.98 353.00,131.32 352.10,131.97 351.20,131.68 350.30,131.45 349.40,131.59 348.50,131.26 347.60,130.19 346.70,129.05 345.80,128.11 344.90,127.90 344.00,128.90 343.10,128.18 342.20,129.56 341.30,126.92 340.40,125.19 339.50,124.33 338.60,125.15 337.70,128.22 336.80,135.82 335.90,143.48 335.00,151.10" fill="#ffc8f4" opacity="0.9"/>
<polyline points="335.00,150.00 336.30,125.00 337.50,106.80 339.00,109.00 340.20,115.20 341.50,122.00 343.00,127.50 344.90,129.56 345.80,130.66 346.70,131.59 347.60,131.92 348.50,131.72 349.40,132.11 350.30,131.76 351.20,133.54 352.10,132.89 353.00,133.80 353.90,133.47 354.80,134.23 355.70,134.12 356.60,133.57 357.50,133.45 358.40,131.72 359.30,132.07 360.20,130.23 361.10,130.57 362.00,130.41 362.90,129.55 363.80,128.81 364.70,128.13 365.60,127.86 366.50,127.34 367.40,125.58 368.30,123.37 369.20,121.24 370.10,120.45 371.00,118.09 371.90,117.10 372.80,115.60 373.70,114.86 374.60,113.23 375.50,111.42 376.40,109.02 377.30,106.27 378.20,104.50 379.10,102.49 380.00,98.74 380.90,95.95 381.80,94.58 382.70,98.19 383.60,101.12 384.50,104.53 385.40,107.77 386.30,111.83 387.20,113.74 388.10,114.22 389.00,114.57 389.90,115.58 390.80,115.50 391.70,115.95 392.60,116.53 393.50,116.44 394.40,115.88 395.30,114.12 396.20,114.97 397.10,116.27 398.00,117.56 398.90,119.27 399.80,121.62 400.70,121.44 401.60,121.86 402.50,123.11 403.40,123.44 404.30,124.08 405.20,124.39 406.10,125.60 407.00,126.70 407.90,126.54 408.80,127.58 409.70,129.69 410.60,130.29 411.50,130.29 412.40,130.67 413.30,131.66 414.20,131.82 415.10,132.78 416.00,133.98 416.90,133.61 417.80,134.38 418.70,134.06 419.60,134.63 420.50,135.47 421.40,134.70 422.30,135.59 423.20,136.13 424.10,136.78 425.00,137.80 425.90,137.71 426.80,137.04 427.70,137.90 428.60,137.92 429.50,138.22 430.40,139.74 431.30,138.40 432.20,139.04 433.10,138.66 434.00,139.43 434.90,139.25 435.80,139.38 436.70,139.54 437.60,140.34 438.50,139.66 439.40,140.00 440.30,139.90 441.20,140.69 442.10,139.65 443.00,139.01 443.90,138.99 444.80,139.99 445.70,138.69 446.60,139.04 447.50,138.78 448.40,138.49 449.30,138.10 450.20,138.18 451.10,138.09 452.00,137.18 452.90,139.25 453.80,138.42 454.70,137.98 455.60,137.76 456.50,137.42 457.40,138.14 458.30,137.55 459.20,137.78 460.10,136.87 461.00,137.59 461.90,138.25 462.80,137.15 463.70,137.56 464.60,137.15 465.50,137.85 466.40,138.28 467.30,138.28 468.20,138.45 469.10,139.28 470.00,139.62 470.90,139.41 471.80,139.99 472.70,140.06 473.60,139.56 474.50,140.00 475.40,141.45 476.30,140.60 477.20,140.36 478.10,141.54 479.00,140.50" fill="none" stroke="#111" stroke-width="1.1" stroke-linejoin="round" stroke-dasharray="2.6,1.6"/>
<polyline points="335.00,149.60 335.90,141.21 336.80,133.29 337.70,127.39 338.60,122.76 339.50,124.43 340.40,127.29 341.30,128.66 342.20,130.57 343.10,131.29 344.00,130.71 344.90,130.65 345.80,129.74 346.70,130.92 347.60,131.02 348.50,132.36 349.40,132.37 350.30,132.71 351.20,132.67 352.10,133.23 353.00,133.57 353.90,133.54 354.80,132.98 355.70,132.50 356.60,131.69 357.50,130.79 358.40,130.00 359.30,128.95 360.20,128.37 361.10,126.06 362.00,125.43 362.90,123.44 363.80,121.45 364.70,118.71 365.60,116.68 366.50,114.19 367.40,111.01 368.30,107.31 369.20,104.09 370.10,101.51 371.00,99.90 371.90,98.44 372.80,97.86 373.70,96.37 374.60,95.50 375.50,94.51 376.40,93.26 377.30,91.82 378.20,88.72 379.10,75.54 380.00,60.37 380.90,54.63 381.80,56.84 382.70,64.97 383.60,75.99 384.50,84.86 385.40,90.03 386.30,95.42 387.20,97.48 388.10,98.32 389.00,98.03 389.90,98.41 390.80,98.98 391.70,98.75 392.60,98.82 393.50,99.83 394.40,101.42 395.30,102.31 396.20,102.22 397.10,102.72 398.00,103.89 398.90,104.75 399.80,105.61 400.70,106.67 401.60,107.44 402.50,107.47 403.40,107.98 404.30,107.77 405.20,108.12 406.10,108.99 407.00,109.52 407.90,110.21 408.80,111.20 409.70,112.29 410.60,113.33 411.50,113.47 412.40,114.86 413.30,116.44 414.20,117.93 415.10,118.52 416.00,119.93 416.90,119.83 417.80,120.37 418.70,121.02 419.60,121.65 420.50,121.25 421.40,122.37 422.30,122.32 423.20,122.29 424.10,122.73 425.00,122.33 425.90,123.70 426.80,124.82 427.70,125.34 428.60,126.30 429.50,127.19 430.40,128.17 431.30,129.54 432.20,130.20 433.10,131.14 434.00,132.28 434.90,133.48 435.80,133.29 436.70,134.24 437.60,133.91 438.50,134.84 439.40,134.50 440.30,134.63 441.20,134.19 442.10,134.17 443.00,135.17 443.90,135.45 444.80,135.21 445.70,135.35 446.60,136.37 447.50,136.51 448.40,137.86 449.30,137.17 450.20,137.64 451.10,138.22 452.00,138.05 452.90,138.45 453.80,139.47 454.70,139.19 455.60,140.09 456.50,140.93 457.40,142.34 458.30,142.06 459.20,141.62 460.10,141.26 461.00,141.96 461.90,142.43 462.80,142.51 463.70,143.40 464.60,142.87 465.50,143.45 466.40,142.89 467.30,142.06 468.20,140.93 469.10,141.75 470.00,142.30 470.90,142.38 471.80,142.46 472.70,142.83 473.60,142.84 474.50,142.43 475.40,142.90 476.30,143.55 477.20,142.70 478.10,143.12 479.00,143.10" fill="none" stroke="#b400ff" stroke-width="1.35" stroke-linejoin="round" />
<polyline points="335.00,149.60 335.90,141.98 336.80,134.32 337.70,126.72 338.60,123.65 339.50,122.83 340.40,123.69 341.30,125.42 342.20,128.06 343.10,126.68 344.00,127.40 344.90,126.40 345.80,126.61 346.70,127.55 347.60,128.69 348.50,129.76 349.40,130.09 350.30,129.95 351.20,130.18 352.10,130.47 353.00,129.82 353.90,129.48 354.80,129.15 355.70,127.66 356.60,126.10 357.50,125.38 358.40,124.39 359.30,123.02 360.20,121.74 361.10,120.95 362.00,119.93 362.90,118.21 363.80,116.55 364.70,115.33 365.60,113.84 366.50,111.87 367.40,109.10 368.30,106.03 369.20,102.34 370.10,98.88 371.00,97.86 371.90,96.62 372.80,95.72 373.70,93.68 374.60,92.77 375.50,91.64 376.40,90.25 377.30,85.81 378.20,78.85 379.10,69.40 380.00,60.18 380.90,54.24 381.80,56.20 382.70,64.58 383.60,75.01 384.50,82.83 385.40,88.91 386.30,94.31 387.20,94.97 388.10,95.24 389.00,94.57 389.90,94.85 390.80,94.55 391.70,94.82 392.60,95.07 393.50,95.53 394.40,97.54 395.30,98.80 396.20,100.38 397.10,101.29 398.00,103.11 398.90,104.21 399.80,105.01 400.70,106.37 401.60,107.66 402.50,108.69 403.40,108.17 404.30,109.69 405.20,110.20 406.10,110.69 407.00,111.09 407.90,112.60 408.80,112.44 409.70,113.80 410.60,114.78 411.50,114.51 412.40,115.70 413.30,116.36 414.20,118.47 415.10,120.47 416.00,122.21 416.90,122.00 417.80,123.55 418.70,124.37 419.60,124.83 420.50,124.58 421.40,124.33 422.30,125.18 423.20,126.19 424.10,127.17 425.00,127.38 425.90,128.16 426.80,128.52 427.70,129.03 428.60,129.70 429.50,130.05 430.40,131.03 431.30,132.30 432.20,132.48 433.10,132.72 434.00,134.32 434.90,134.59 435.80,135.71 436.70,135.55 437.60,135.51 438.50,134.46 439.40,135.02 440.30,135.62 441.20,134.60 442.10,134.67 443.00,134.81 443.90,134.01 444.80,133.95 445.70,133.76 446.60,133.78 447.50,133.63 448.40,132.20 449.30,131.46 450.20,131.03 451.10,131.64 452.00,131.38 452.90,133.09 453.80,135.35 454.70,134.74 455.60,134.57 456.50,133.98 457.40,134.80 458.30,135.73 459.20,136.78 460.10,136.93 461.00,137.27 461.90,137.31 462.80,137.20 463.70,137.05 464.60,139.47 465.50,140.00 466.40,139.58 467.30,138.87 468.20,138.18 469.10,138.69 470.00,138.78 470.90,139.98 471.80,140.70 472.70,141.06 473.60,140.90 474.50,141.73 475.40,141.16 476.30,143.79 477.20,146.15 478.10,143.51 479.00,141.30" fill="none" stroke="#ff1a3c" stroke-width="1.35" stroke-linejoin="round" />
<polyline points="335.9,104.2 335.9,101.8 342.4,101.8 342.4,104.2" fill="none" stroke="#444" stroke-width="0.9"/>
<line x1="335.9" y1="104.2" x2="335.9" y2="159.8" stroke="#555" stroke-width="0.9" stroke-dasharray="4,3"/>
<line x1="342.4" y1="104.2" x2="342.4" y2="159.8" stroke="#555" stroke-width="0.9" stroke-dasharray="4,3"/>
<text x="336.00" y="99.40" font-size="9" textLength="12.00" lengthAdjust="spacingAndGlyphs" >Pk 1</text>
<line x1="343.90" y1="154.20" x2="345.40" y2="154.20" stroke="#b400ff" stroke-width="1.6" />
<line x1="353.30" y1="154.20" x2="357.60" y2="154.20" stroke="#b400ff" stroke-width="1.6" />
<line x1="359.80" y1="154.20" x2="362.90" y2="154.20" stroke="#b400ff" stroke-width="1.6" />
<line x1="364.20" y1="154.20" x2="365.20" y2="154.20" stroke="#b400ff" stroke-width="1.6" />
<line x1="368.50" y1="154.20" x2="369.50" y2="154.20" stroke="#b400ff" stroke-width="1.6" />
<line x1="392.20" y1="154.20" x2="393.20" y2="154.20" stroke="#b400ff" stroke-width="1.6" />
<line x1="397.00" y1="154.20" x2="398.00" y2="154.20" stroke="#b400ff" stroke-width="1.6" />
<line x1="406.40" y1="154.20" x2="407.40" y2="154.20" stroke="#b400ff" stroke-width="1.6" />
<line x1="455.50" y1="154.20" x2="457.70" y2="154.20" stroke="#b400ff" stroke-width="1.6" />
<line x1="461.00" y1="154.20" x2="463.20" y2="154.20" stroke="#b400ff" stroke-width="1.6" />
<line x1="476.80" y1="154.20" x2="478.00" y2="154.20" stroke="#b400ff" stroke-width="1.6" />
<line x1="405.30" y1="27.20" x2="481.00" y2="27.20" stroke="#8a8a8a" stroke-width="1.0" stroke-dasharray="7.2,7.2" stroke-dashoffset="3.20"/>
<line x1="481.00" y1="27.20" x2="481.00" y2="96.60" stroke="#8a8a8a" stroke-width="1.0" stroke-dasharray="7.2,7.2" stroke-dashoffset="3.20"/>
<line x1="481.00" y1="96.60" x2="405.30" y2="96.60" stroke="#8a8a8a" stroke-width="1.0" stroke-dasharray="7.2,7.2" stroke-dashoffset="3.20"/>
<line x1="405.30" y1="96.60" x2="405.30" y2="27.20" stroke="#8a8a8a" stroke-width="1.0" stroke-dasharray="7.2,7.2" stroke-dashoffset="3.20"/>
<line x1="415.30" y1="34.80" x2="415.30" y2="85.00" stroke="#b0b0b0" stroke-width="1.0" />
<line x1="415.30" y1="85.00" x2="477.00" y2="85.00" stroke="#8a8a8a" stroke-width="1.0" />
<line x1="415.30" y1="79.40" x2="416.60" y2="79.40" stroke="#2a2a2a" stroke-width="0.8" />
<text x="413.30" y="82.30" font-size="8.2" text-anchor="end" >0</text>
<line x1="415.30" y1="57.40" x2="416.60" y2="57.40" stroke="#2a2a2a" stroke-width="0.8" />
<text x="413.30" y="60.30" font-size="8.2" text-anchor="end" >2</text>
<line x1="415.30" y1="35.40" x2="416.60" y2="35.40" stroke="#2a2a2a" stroke-width="0.8" />
<text x="413.30" y="38.30" font-size="8.2" text-anchor="end" >4</text>
<line x1="421.04" y1="85.00" x2="421.04" y2="83.70" stroke="#2a2a2a" stroke-width="0.8" />
<text x="421.04" y="92.80" font-size="8.2" text-anchor="middle" >2</text>
<line x1="433.68" y1="85.00" x2="433.68" y2="83.70" stroke="#2a2a2a" stroke-width="0.8" />
<text x="433.68" y="92.80" font-size="8.2" text-anchor="middle" >4</text>
<line x1="446.32" y1="85.00" x2="446.32" y2="83.70" stroke="#2a2a2a" stroke-width="0.8" />
<text x="446.32" y="92.80" font-size="8.2" text-anchor="middle" >6</text>
<line x1="458.96" y1="85.00" x2="458.96" y2="83.70" stroke="#2a2a2a" stroke-width="0.8" />
<text x="458.96" y="92.80" font-size="8.2" text-anchor="middle" >8</text>
<line x1="471.60" y1="85.00" x2="471.60" y2="83.70" stroke="#2a2a2a" stroke-width="0.8" />
<text x="471.60" y="92.80" font-size="8.2" text-anchor="middle" >10</text>
<polygon points="418.70,79.70 423.20,66.50 427.30,60.40 431.30,52.70 435.30,48.20 439.30,46.10 441.70,48.20 444.10,52.40 448.90,52.60 453.70,51.60 458.60,52.60 461.80,55.80 465.00,57.90 469.00,57.10 473.80,57.90 473.80,63.90 469.00,63.10 465.00,63.90 461.80,62.80 458.60,60.60 453.70,59.60 448.90,60.60 444.10,61.40 441.70,59.20 439.30,58.10 435.30,59.20 431.30,62.70 427.30,69.40 423.20,74.50 418.70,80.70" fill="#e6ccff" opacity="1.0"/>
<polygon points="418.70,79.70 423.20,69.80 427.30,62.90 429.70,59.40 431.30,58.90 433.70,60.00 436.90,58.90 440.90,57.30 444.10,55.70 447.30,54.90 451.30,55.20 454.50,54.60 458.20,53.30 461.00,55.70 463.40,59.70 466.60,58.90 469.80,58.10 472.70,59.40 472.70,63.40 469.80,62.10 466.60,62.90 463.40,63.70 461.00,59.70 458.20,57.30 454.50,58.60 451.30,59.20 447.30,58.90 444.10,59.70 440.90,61.30 436.90,62.90 433.70,64.00 431.30,62.90 429.70,63.40 427.30,66.90 423.20,72.80 418.70,80.70" fill="#ffc8f4" opacity="0.9"/>
<polyline points="418.70,80.20 423.20,73.80 427.30,66.50 430.90,58.50 434.50,50.50 437.70,44.10 440.10,40.00 442.50,43.30 444.10,45.70 447.30,48.10 450.50,46.50 453.70,46.90 457.00,49.70 460.20,54.50 463.40,58.50 467.40,58.20 470.60,58.20 473.80,60.10" fill="none" stroke="#111" stroke-width="1.3" stroke-linejoin="round" stroke-dasharray="3.4,2.2"/>
<polyline points="418.70,80.20 423.20,70.50 427.30,64.90 431.30,57.70 435.30,53.70 439.30,52.10 441.70,53.70 444.10,56.90 448.90,56.60 453.70,55.60 458.60,56.60 461.80,59.30 465.00,60.90 469.00,60.10 473.80,60.90" fill="none" stroke="#b400ff" stroke-width="1.0" stroke-linejoin="round" />
<polyline points="418.70,80.20 423.20,71.30 427.30,64.90 429.70,61.40 431.30,60.90 433.70,62.00 436.90,60.90 440.90,59.30 444.10,57.70 447.30,56.90 451.30,57.20 454.50,56.60 458.20,55.30 461.00,57.70 463.40,61.70 466.60,60.90 469.80,60.10 472.70,61.40" fill="none" stroke="#ff1a3c" stroke-width="1.0" stroke-linejoin="round" />
<text x="438.90" y="38.20" font-size="9.4" text-anchor="middle" textLength="9.20" lengthAdjust="spacingAndGlyphs" >1a</text>
<text x="453.60" y="44.20" font-size="9.4" text-anchor="middle" textLength="10.00" lengthAdjust="spacingAndGlyphs" >1b</text>
<line x1="334.10" y1="236.60" x2="334.10" y2="360.20" stroke="#2a2a2a" stroke-width="1.0" />
<line x1="334.10" y1="351.20" x2="335.50" y2="351.20" stroke="#2a2a2a" stroke-width="0.8" />
<text x="330.90" y="354.40" font-size="9" text-anchor="end" >0</text>
<line x1="334.10" y1="325.90" x2="335.50" y2="325.90" stroke="#2a2a2a" stroke-width="0.8" />
<text x="330.90" y="329.10" font-size="9" text-anchor="end" >2</text>
<line x1="334.10" y1="300.60" x2="335.50" y2="300.60" stroke="#2a2a2a" stroke-width="0.8" />
<text x="330.90" y="303.80" font-size="9" text-anchor="end" >4</text>
<line x1="334.10" y1="275.30" x2="335.50" y2="275.30" stroke="#2a2a2a" stroke-width="0.8" />
<text x="330.90" y="278.50" font-size="9" text-anchor="end" >6</text>
<line x1="334.10" y1="250.00" x2="335.50" y2="250.00" stroke="#2a2a2a" stroke-width="0.8" />
<text x="330.90" y="253.20" font-size="9" text-anchor="end" >8</text>
<line x1="334.10" y1="360.20" x2="480.40" y2="360.20" stroke="#2a2a2a" stroke-width="1.0" />
<line x1="350.75" y1="360.20" x2="350.75" y2="358.80" stroke="#2a2a2a" stroke-width="0.8" />
<text x="350.75" y="370.80" font-size="9" text-anchor="middle" >20</text>
<line x1="384.25" y1="360.20" x2="384.25" y2="358.80" stroke="#2a2a2a" stroke-width="0.8" />
<text x="384.25" y="370.80" font-size="9" text-anchor="middle" >60</text>
<line x1="417.75" y1="360.20" x2="417.75" y2="358.80" stroke="#2a2a2a" stroke-width="0.8" />
<text x="417.75" y="370.80" font-size="9" text-anchor="middle" >100</text>
<line x1="451.25" y1="360.20" x2="451.25" y2="358.80" stroke="#2a2a2a" stroke-width="0.8" />
<text x="451.25" y="370.80" font-size="9" text-anchor="middle" >140</text>
<text x="403.20" y="383.00" font-size="8.8" text-anchor="middle" textLength="60.00" lengthAdjust="spacingAndGlyphs" >Frequency (Hz)</text>
<text x="321.60" y="297.80" font-size="9" text-anchor="middle" textLength="74.00" lengthAdjust="spacingAndGlyphs" transform="rotate(-90 321.60 297.80)" >Periodic power (dB)</text>
<line x1="334.70" y1="229.90" x2="339.50" y2="229.90" stroke="#222" stroke-width="1.1" />
<line x1="343.10" y1="229.90" x2="345.10" y2="229.90" stroke="#222" stroke-width="1.1" />
<text x="346.30" y="233.10" font-size="9" textLength="47.40" lengthAdjust="spacingAndGlyphs" >WT + Saline</text>
<polygon points="335.20,349.70 336.10,332.34 337.00,315.48 337.90,308.47 338.80,312.06 339.70,317.74 340.60,323.96 341.50,327.58 342.40,330.09 343.30,331.26 344.20,333.11 345.10,334.77 346.00,336.52 346.90,336.90 347.80,338.12 348.70,338.10 349.60,338.81 350.50,339.55 351.40,341.00 352.30,342.54 353.20,342.80 354.10,341.54 355.00,341.92 355.90,340.89 356.80,339.98 357.70,339.26 358.60,339.85 359.50,338.35 360.40,337.19 361.30,336.48 362.20,337.06 363.10,335.07 364.00,334.21 364.90,332.66 365.80,329.32 366.70,329.45 367.60,327.26 368.50,325.38 369.40,324.14 370.30,323.15 371.20,321.71 372.10,320.37 373.00,318.49 373.90,318.03 374.80,316.40 375.70,314.34 376.60,311.76 377.50,309.45 378.40,302.04 379.30,296.32 380.20,289.20 381.10,282.72 382.00,283.60 382.90,292.30 383.80,302.42 384.70,308.91 385.60,316.20 386.50,315.71 387.40,316.69 388.30,318.73 389.20,318.22 390.10,319.14 391.00,319.97 391.90,320.04 392.80,320.31 393.70,320.92 394.60,321.41 395.50,321.58 396.40,321.99 397.30,322.71 398.20,322.22 399.10,322.86 400.00,322.53 400.90,323.42 401.80,324.16 402.70,324.60 403.60,325.77 404.50,326.57 405.40,326.54 406.30,327.68 407.20,327.91 408.10,328.12 409.00,328.01 409.90,327.38 410.80,329.53 411.70,329.15 412.60,328.50 413.50,330.08 414.40,329.78 415.30,330.76 416.20,330.85 417.10,331.86 418.00,331.91 418.90,332.38 419.80,332.77 420.70,333.70 421.60,333.02 422.50,334.58 423.40,334.81 424.30,334.70 425.20,335.13 426.10,334.18 427.00,333.66 427.90,333.31 428.80,333.51 429.70,335.30 430.60,336.54 431.50,337.55 432.40,338.80 433.30,338.52 434.20,339.31 435.10,340.57 436.00,339.91 436.90,340.29 437.80,340.76 438.70,341.43 439.60,341.30 440.50,341.88 441.40,341.60 442.30,342.33 443.20,342.75 444.10,342.87 445.00,343.31 445.90,343.94 446.80,343.57 447.70,343.27 448.60,344.09 449.50,344.17 450.40,343.58 451.30,344.38 452.20,343.94 453.10,344.24 454.00,344.30 454.90,345.10 455.80,344.47 456.70,344.80 457.60,345.13 458.50,345.63 459.40,345.81 460.30,344.94 461.20,346.05 462.10,345.76 463.00,346.28 463.90,346.34 464.80,345.43 465.70,345.35 466.60,344.86 467.50,344.82 468.40,345.06 469.30,344.00 470.20,343.34 471.10,344.44 472.00,343.05 472.90,343.69 473.80,343.88 474.70,343.51 475.60,344.64 476.50,344.96 477.40,344.64 478.30,345.00 478.30,349.00 477.40,348.64 476.50,348.96 475.60,348.64 474.70,347.51 473.80,347.88 472.90,347.69 472.00,347.05 471.10,348.44 470.20,347.34 469.30,348.00 468.40,349.06 467.50,348.82 466.60,348.86 465.70,349.35 464.80,349.43 463.90,350.34 463.00,350.28 462.10,349.76 461.20,350.05 460.30,348.94 459.40,349.81 458.50,349.63 457.60,349.13 456.70,348.80 455.80,348.47 454.90,349.10 454.00,348.30 453.10,348.24 452.20,347.94 451.30,348.38 450.40,347.58 449.50,348.17 448.60,348.09 447.70,347.27 446.80,347.57 445.90,347.94 445.00,347.31 444.10,346.87 443.20,346.75 442.30,346.33 441.40,345.60 440.50,345.88 439.60,345.30 438.70,345.43 437.80,344.76 436.90,344.29 436.00,343.91 435.10,344.57 434.20,343.31 433.30,342.52 432.40,342.80 431.50,341.55 430.60,340.54 429.70,339.30 428.80,337.51 427.90,337.31 427.00,337.66 426.10,338.18 425.20,339.13 424.30,338.70 423.40,338.81 422.50,338.58 421.60,337.02 420.70,337.70 419.80,336.77 418.90,336.38 418.00,335.91 417.10,335.86 416.20,334.85 415.30,334.76 414.40,333.78 413.50,334.08 412.60,332.50 411.70,333.15 410.80,333.53 409.90,331.38 409.00,332.01 408.10,332.12 407.20,331.91 406.30,331.68 405.40,330.54 404.50,330.57 403.60,329.77 402.70,328.60 401.80,328.16 400.90,327.42 400.00,326.53 399.10,326.86 398.20,326.22 397.30,326.71 396.40,325.99 395.50,325.58 394.60,325.41 393.70,324.92 392.80,324.31 391.90,324.04 391.00,323.97 390.10,323.14 389.20,322.22 388.30,322.73 387.40,320.69 386.50,319.71 385.60,320.20 384.70,318.91 383.80,312.42 382.90,302.30 382.00,293.60 381.10,292.72 380.20,299.20 379.30,306.32 378.40,312.04 377.50,313.45 376.60,315.76 375.70,318.34 374.80,320.40 373.90,322.03 373.00,322.49 372.10,324.37 371.20,325.71 370.30,327.15 369.40,328.14 368.50,329.38 367.60,331.26 366.70,333.45 365.80,333.32 364.90,336.66 364.00,338.21 363.10,339.07 362.20,341.06 361.30,340.48 360.40,341.19 359.50,342.35 358.60,343.85 357.70,343.26 356.80,343.98 355.90,344.89 355.00,345.92 354.10,345.54 353.20,346.80 352.30,346.54 351.40,345.00 350.50,343.55 349.60,342.81 348.70,342.10 347.80,342.12 346.90,340.90 346.00,340.52 345.10,338.77 344.20,337.11 343.30,335.26 342.40,334.09 341.50,331.58 340.60,327.96 339.70,321.74 338.80,316.06 337.90,312.47 337.00,319.48 336.10,336.34 335.20,353.70" fill="#c8c8fa" opacity="1.0"/>
<polygon points="335.20,350.00 336.10,342.94 337.00,333.72 337.90,329.05 338.80,327.32 339.70,326.46 340.60,327.47 341.50,328.35 342.40,329.79 343.30,331.37 344.20,332.36 345.10,333.49 346.00,333.71 346.90,335.04 347.80,337.72 348.70,338.08 349.60,339.06 350.50,339.06 351.40,338.49 352.30,339.21 353.20,338.20 354.10,337.31 355.00,335.69 355.90,334.55 356.80,332.97 357.70,332.10 358.60,330.64 359.50,330.18 360.40,328.00 361.30,327.36 362.20,326.02 363.10,324.06 364.00,322.57 364.90,322.15 365.80,320.04 366.70,317.85 367.60,316.58 368.50,314.75 369.40,313.81 370.30,311.91 371.20,310.42 372.10,309.00 373.00,307.13 373.90,306.38 374.80,304.26 375.70,303.32 376.60,301.55 377.50,297.51 378.40,286.30 379.30,277.63 380.20,259.63 381.10,249.87 382.00,251.57 382.90,261.59 383.80,280.89 384.70,291.55 385.60,299.17 386.50,300.18 387.40,301.07 388.30,301.30 389.20,302.20 390.10,303.26 391.00,303.19 391.90,303.48 392.80,304.34 393.70,305.55 394.60,306.43 395.50,307.80 396.40,310.31 397.30,311.35 398.20,312.39 399.10,313.21 400.00,315.03 400.90,315.76 401.80,316.80 402.70,317.58 403.60,318.22 404.50,319.11 405.40,318.85 406.30,319.27 407.20,319.99 408.10,319.97 409.00,321.37 409.90,321.67 410.80,322.41 411.70,322.95 412.60,324.23 413.50,325.27 414.40,325.92 415.30,326.33 416.20,326.17 417.10,327.82 418.00,327.70 418.90,327.95 419.80,329.20 420.70,329.73 421.60,329.81 422.50,331.27 423.40,331.21 424.30,330.73 425.20,326.38 426.10,325.99 427.00,324.84 427.90,324.28 428.80,324.27 429.70,324.85 430.60,326.97 431.50,329.13 432.40,332.60 433.30,334.01 434.20,334.40 435.10,334.85 436.00,336.60 436.90,337.19 437.80,337.74 438.70,338.44 439.60,339.61 440.50,339.14 441.40,339.54 442.30,340.42 443.20,340.87 444.10,340.57 445.00,340.45 445.90,340.93 446.80,341.28 447.70,340.91 448.60,340.81 449.50,340.85 450.40,339.19 451.30,339.20 452.20,339.35 453.10,338.92 454.00,338.94 454.90,339.80 455.80,339.57 456.70,340.33 457.60,339.99 458.50,340.85 459.40,342.27 460.30,341.78 461.20,342.53 462.10,343.07 463.00,342.89 463.90,343.74 464.80,343.59 465.70,343.65 466.60,342.90 467.50,342.38 468.40,342.41 469.30,342.47 470.20,342.82 471.10,342.35 472.00,342.12 472.90,342.08 473.80,342.52 474.70,341.58 475.60,341.98 476.50,340.20 477.40,339.94 478.30,339.30 478.30,342.70 477.40,343.34 476.50,343.60 475.60,345.38 474.70,344.98 473.80,345.92 472.90,345.48 472.00,345.52 471.10,345.75 470.20,346.22 469.30,345.87 468.40,345.81 467.50,345.78 466.60,346.30 465.70,347.05 464.80,346.99 463.90,347.14 463.00,346.29 462.10,346.47 461.20,345.93 460.30,345.18 459.40,345.67 458.50,344.25 457.60,343.39 456.70,343.73 455.80,342.97 454.90,343.20 454.00,342.34 453.10,342.32 452.20,342.75 451.30,342.60 450.40,342.59 449.50,344.25 448.60,344.21 447.70,344.31 446.80,344.68 445.90,344.33 445.00,343.85 444.10,343.97 443.20,344.27 442.30,343.82 441.40,342.94 440.50,342.54 439.60,343.01 438.70,341.84 437.80,341.14 436.90,340.59 436.00,340.00 435.10,338.25 434.20,337.80 433.30,337.41 432.40,336.00 431.50,336.53 430.60,334.37 429.70,332.25 428.80,331.67 427.90,331.68 427.00,332.24 426.10,333.39 425.20,333.78 424.30,334.13 423.40,334.61 422.50,334.67 421.60,333.21 420.70,333.13 419.80,332.60 418.90,331.35 418.00,331.10 417.10,331.22 416.20,329.57 415.30,329.73 414.40,329.32 413.50,328.67 412.60,327.63 411.70,326.35 410.80,325.81 409.90,325.07 409.00,324.77 408.10,323.37 407.20,323.39 406.30,322.67 405.40,322.25 404.50,322.51 403.60,321.62 402.70,320.98 401.80,320.20 400.90,319.16 400.00,318.43 399.10,316.61 398.20,315.79 397.30,314.75 396.40,313.71 395.50,313.60 394.60,312.23 393.70,311.35 392.80,310.14 391.90,309.28 391.00,308.99 390.10,309.06 389.20,308.00 388.30,307.10 387.40,306.87 386.50,305.98 385.60,304.97 384.70,302.95 383.80,292.29 382.90,282.99 382.00,272.97 381.10,271.27 380.20,281.03 379.30,289.03 378.40,297.70 377.50,300.91 376.60,304.95 375.70,306.72 374.80,307.66 373.90,309.78 373.00,310.53 372.10,312.40 371.20,313.82 370.30,315.31 369.40,317.21 368.50,318.15 367.60,319.98 366.70,321.25 365.80,323.44 364.90,325.55 364.00,325.97 363.10,327.46 362.20,329.42 361.30,330.76 360.40,331.40 359.50,333.58 358.60,334.04 357.70,335.50 356.80,336.37 355.90,337.95 355.00,339.09 354.10,340.71 353.20,341.60 352.30,342.61 351.40,341.89 350.50,342.46 349.60,342.46 348.70,341.48 347.80,341.12 346.90,338.44 346.00,337.11 345.10,336.89 344.20,335.76 343.30,334.77 342.40,333.19 341.50,331.75 340.60,330.87 339.70,329.86 338.80,330.72 337.90,332.45 337.00,337.12 336.10,346.34 335.20,353.40" fill="#ffc8f4" opacity="0.9"/>
<polyline points="335.20,351.70 337.00,325.00 338.60,306.80 340.50,319.90 342.30,331.10 344.20,334.03 345.10,334.99 346.00,336.41 346.90,337.98 347.80,337.72 348.70,338.56 349.60,339.02 350.50,339.45 351.40,339.78 352.30,340.27 353.20,340.26 354.10,339.83 355.00,338.78 355.90,338.18 356.80,336.61 357.70,336.23 358.60,335.67 359.50,333.62 360.40,332.83 361.30,333.14 362.20,330.76 363.10,329.81 364.00,329.68 364.90,330.09 365.80,329.71 366.70,327.75 367.60,328.07 368.50,327.32 369.40,326.56 370.30,325.47 371.20,326.36 372.10,325.06 373.00,325.13 373.90,324.59 374.80,323.86 375.70,321.87 376.60,319.15 377.50,317.88 378.40,313.97 379.30,308.40 380.20,303.08 381.10,297.26 382.00,298.94 382.90,304.07 383.80,308.83 384.70,312.74 385.60,314.82 386.50,317.95 387.40,319.39 388.30,320.59 389.20,321.28 390.10,322.65 391.00,323.25 391.90,323.85 392.80,325.29 393.70,325.61 394.60,326.59 395.50,325.91 396.40,326.12 397.30,326.13 398.20,325.36 399.10,326.51 400.00,327.32 400.90,327.48 401.80,327.48 402.70,329.70 403.60,329.93 404.50,330.81 405.40,331.41 406.30,332.02 407.20,332.76 408.10,332.23 409.00,333.38 409.90,333.72 410.80,334.93 411.70,334.42 412.60,336.09 413.50,336.09 414.40,337.02 415.30,336.39 416.20,337.39 417.10,337.52 418.00,337.01 418.90,337.89 419.80,338.12 420.70,338.16 421.60,338.50 422.50,338.45 423.40,339.14 424.30,339.75 425.20,339.52 426.10,339.47 427.00,340.95 427.90,340.62 428.80,341.10 429.70,341.29 430.60,341.51 431.50,342.40 432.40,342.27 433.30,342.90 434.20,342.61 435.10,342.86 436.00,343.42 436.90,344.46 437.80,343.68 438.70,344.47 439.60,343.80 440.50,343.76 441.40,343.21 442.30,343.38 443.20,344.12 444.10,343.76 445.00,342.87 445.90,342.86 446.80,343.59 447.70,342.68 448.60,343.24 449.50,342.34 450.40,342.89 451.30,343.07 452.20,342.55 453.10,342.07 454.00,341.80 454.90,341.49 455.80,341.60 456.70,342.27 457.60,342.38 458.50,342.17 459.40,341.55 460.30,342.10 461.20,342.86 462.10,343.15 463.00,342.91 463.90,344.21 464.80,345.48 465.70,343.85 466.60,344.43 467.50,345.13 468.40,344.21 469.30,344.22 470.20,344.50 471.10,344.78 472.00,344.44 472.90,345.17 473.80,343.97 474.70,345.22 475.60,345.20 476.50,345.06 477.40,345.30" fill="none" stroke="#111" stroke-width="1.1" stroke-linejoin="round" stroke-dasharray="2.6,1.6"/>
<polyline points="335.20,351.70 336.10,334.34 337.00,317.48 337.90,310.47 338.80,314.06 339.70,319.74 340.60,325.96 341.50,329.58 342.40,332.09 343.30,333.26 344.20,335.11 345.10,336.77 346.00,338.52 346.90,338.90 347.80,340.12 348.70,340.10 349.60,340.81 350.50,341.55 351.40,343.00 352.30,344.54 353.20,344.80 354.10,343.54 355.00,343.92 355.90,342.89 356.80,341.98 357.70,341.26 358.60,341.85 359.50,340.35 360.40,339.19 361.30,338.48 362.20,339.06 363.10,337.07 364.00,336.21 364.90,334.66 365.80,331.32 366.70,331.45 367.60,329.26 368.50,327.38 369.40,326.14 370.30,325.15 371.20,323.71 372.10,322.37 373.00,320.49 373.90,320.03 374.80,318.40 375.70,316.34 376.60,313.76 377.50,311.45 378.40,307.04 379.30,301.32 380.20,294.20 381.10,287.72 382.00,288.60 382.90,297.30 383.80,307.42 384.70,313.91 385.60,318.20 386.50,317.71 387.40,318.69 388.30,320.73 389.20,320.22 390.10,321.14 391.00,321.97 391.90,322.04 392.80,322.31 393.70,322.92 394.60,323.41 395.50,323.58 396.40,323.99 397.30,324.71 398.20,324.22 399.10,324.86 400.00,324.53 400.90,325.42 401.80,326.16 402.70,326.60 403.60,327.77 404.50,328.57 405.40,328.54 406.30,329.68 407.20,329.91 408.10,330.12 409.00,330.01 409.90,329.38 410.80,331.53 411.70,331.15 412.60,330.50 413.50,332.08 414.40,331.78 415.30,332.76 416.20,332.85 417.10,333.86 418.00,333.91 418.90,334.38 419.80,334.77 420.70,335.70 421.60,335.02 422.50,336.58 423.40,336.81 424.30,336.70 425.20,337.13 426.10,336.18 427.00,335.66 427.90,335.31 428.80,335.51 429.70,337.30 430.60,338.54 431.50,339.55 432.40,340.80 433.30,340.52 434.20,341.31 435.10,342.57 436.00,341.91 436.90,342.29 437.80,342.76 438.70,343.43 439.60,343.30 440.50,343.88 441.40,343.60 442.30,344.33 443.20,344.75 444.10,344.87 445.00,345.31 445.90,345.94 446.80,345.57 447.70,345.27 448.60,346.09 449.50,346.17 450.40,345.58 451.30,346.38 452.20,345.94 453.10,346.24 454.00,346.30 454.90,347.10 455.80,346.47 456.70,346.80 457.60,347.13 458.50,347.63 459.40,347.81 460.30,346.94 461.20,348.05 462.10,347.76 463.00,348.28 463.90,348.34 464.80,347.43 465.70,347.35 466.60,346.86 467.50,346.82 468.40,347.06 469.30,346.00 470.20,345.34 471.10,346.44 472.00,345.05 472.90,345.69 473.80,345.88 474.70,345.51 475.60,346.64 476.50,346.96 477.40,346.64 478.30,347.00" fill="none" stroke="#8a22ff" stroke-width="1.35" stroke-linejoin="round" />
<polyline points="335.20,351.70 336.10,344.64 337.00,335.42 337.90,330.75 338.80,329.02 339.70,328.16 340.60,329.17 341.50,330.05 342.40,331.49 343.30,333.07 344.20,334.06 345.10,335.19 346.00,335.41 346.90,336.74 347.80,339.42 348.70,339.78 349.60,340.76 350.50,340.76 351.40,340.19 352.30,340.91 353.20,339.90 354.10,339.01 355.00,337.39 355.90,336.25 356.80,334.67 357.70,333.80 358.60,332.34 359.50,331.88 360.40,329.70 361.30,329.06 362.20,327.72 363.10,325.76 364.00,324.27 364.90,323.85 365.80,321.74 366.70,319.55 367.60,318.28 368.50,316.45 369.40,315.51 370.30,313.61 371.20,312.12 372.10,310.70 373.00,308.83 373.90,308.08 374.80,305.96 375.70,305.02 376.60,303.25 377.50,299.21 378.40,292.00 379.30,283.33 380.20,270.33 381.10,260.57 382.00,262.27 382.90,272.29 383.80,286.59 384.70,297.25 385.60,302.07 386.50,303.08 387.40,303.97 388.30,304.20 389.20,305.10 390.10,306.16 391.00,306.09 391.90,306.38 392.80,307.24 393.70,308.45 394.60,309.33 395.50,310.70 396.40,312.01 397.30,313.05 398.20,314.09 399.10,314.91 400.00,316.73 400.90,317.46 401.80,318.50 402.70,319.28 403.60,319.92 404.50,320.81 405.40,320.55 406.30,320.97 407.20,321.69 408.10,321.67 409.00,323.07 409.90,323.37 410.80,324.11 411.70,324.65 412.60,325.93 413.50,326.97 414.40,327.62 415.30,328.03 416.20,327.87 417.10,329.52 418.00,329.40 418.90,329.65 419.80,330.90 420.70,331.43 421.60,331.51 422.50,332.97 423.40,332.91 424.30,332.43 425.20,330.08 426.10,329.69 427.00,328.54 427.90,327.98 428.80,327.97 429.70,328.55 430.60,330.67 431.50,332.83 432.40,334.30 433.30,335.71 434.20,336.10 435.10,336.55 436.00,338.30 436.90,338.89 437.80,339.44 438.70,340.14 439.60,341.31 440.50,340.84 441.40,341.24 442.30,342.12 443.20,342.57 444.10,342.27 445.00,342.15 445.90,342.63 446.80,342.98 447.70,342.61 448.60,342.51 449.50,342.55 450.40,340.89 451.30,340.90 452.20,341.05 453.10,340.62 454.00,340.64 454.90,341.50 455.80,341.27 456.70,342.03 457.60,341.69 458.50,342.55 459.40,343.97 460.30,343.48 461.20,344.23 462.10,344.77 463.00,344.59 463.90,345.44 464.80,345.29 465.70,345.35 466.60,344.60 467.50,344.08 468.40,344.11 469.30,344.17 470.20,344.52 471.10,344.05 472.00,343.82 472.90,343.78 473.80,344.22 474.70,343.28 475.60,343.68 476.50,341.90 477.40,341.64 478.30,341.00" fill="none" stroke="#ff1a3c" stroke-width="1.35" stroke-linejoin="round" />
<polyline points="335.3,305.0 335.3,302.6 342.1,302.6 342.1,305.0" fill="none" stroke="#444" stroke-width="0.9"/>
<line x1="335.3" y1="305" x2="335.3" y2="360.2" stroke="#555" stroke-width="0.9" stroke-dasharray="4,3"/>
<line x1="342.1" y1="305" x2="342.1" y2="360.2" stroke="#555" stroke-width="0.9" stroke-dasharray="4,3"/>
<text x="335.00" y="298.60" font-size="9" textLength="12.50" lengthAdjust="spacingAndGlyphs" >Pk 1</text>
<line x1="335.10" y1="355.30" x2="338.70" y2="355.30" stroke="#8a22ff" stroke-width="1.3" />
<line x1="346.30" y1="355.30" x2="348.40" y2="355.30" stroke="#8a22ff" stroke-width="1.3" />
<line x1="350.40" y1="355.30" x2="354.50" y2="355.30" stroke="#8a22ff" stroke-width="1.3" />
<line x1="356.00" y1="355.30" x2="413.40" y2="355.30" stroke="#8a22ff" stroke-width="1.3" />
<line x1="414.70" y1="355.30" x2="417.30" y2="355.30" stroke="#8a22ff" stroke-width="1.3" />
<line x1="418.90" y1="355.30" x2="421.00" y2="355.30" stroke="#8a22ff" stroke-width="1.3" />
<line x1="423.60" y1="355.30" x2="430.70" y2="355.30" stroke="#8a22ff" stroke-width="1.3" />
<line x1="432.50" y1="355.30" x2="433.40" y2="355.30" stroke="#8a22ff" stroke-width="1.3" />
<line x1="434.40" y1="355.30" x2="438.60" y2="355.30" stroke="#8a22ff" stroke-width="1.3" />
<line x1="447.20" y1="355.30" x2="448.20" y2="355.30" stroke="#8a22ff" stroke-width="1.3" />
<line x1="450.80" y1="355.30" x2="457.40" y2="355.30" stroke="#8a22ff" stroke-width="1.3" />
<line x1="466.10" y1="355.30" x2="467.10" y2="355.30" stroke="#8a22ff" stroke-width="1.3" />
<line x1="477.30" y1="355.30" x2="478.30" y2="355.30" stroke="#8a22ff" stroke-width="1.3" />
<line x1="405.20" y1="227.60" x2="480.90" y2="227.60" stroke="#8a8a8a" stroke-width="1.0" stroke-dasharray="7.2,7.2" stroke-dashoffset="3.20"/>
<line x1="480.90" y1="227.60" x2="480.90" y2="297.20" stroke="#8a8a8a" stroke-width="1.0" stroke-dasharray="7.2,7.2" stroke-dashoffset="3.20"/>
<line x1="480.90" y1="297.20" x2="405.20" y2="297.20" stroke="#8a8a8a" stroke-width="1.0" stroke-dasharray="7.2,7.2" stroke-dashoffset="3.20"/>
<line x1="405.20" y1="297.20" x2="405.20" y2="227.60" stroke="#8a8a8a" stroke-width="1.0" stroke-dasharray="7.2,7.2" stroke-dashoffset="3.20"/>
<line x1="414.70" y1="237.60" x2="414.70" y2="286.20" stroke="#b0b0b0" stroke-width="1.0" />
<line x1="414.70" y1="286.20" x2="476.80" y2="286.20" stroke="#8a8a8a" stroke-width="1.0" />
<line x1="414.70" y1="281.30" x2="416.00" y2="281.30" stroke="#2a2a2a" stroke-width="0.8" />
<text x="412.50" y="284.20" font-size="8.2" text-anchor="end" >0</text>
<line x1="414.70" y1="261.10" x2="416.00" y2="261.10" stroke="#2a2a2a" stroke-width="0.8" />
<text x="412.50" y="264.00" font-size="8.2" text-anchor="end" >2</text>
<line x1="414.70" y1="240.90" x2="416.00" y2="240.90" stroke="#2a2a2a" stroke-width="0.8" />
<text x="412.50" y="243.80" font-size="8.2" text-anchor="end" >4</text>
<line x1="420.42" y1="286.20" x2="420.42" y2="284.90" stroke="#2a2a2a" stroke-width="0.8" />
<text x="420.42" y="294.00" font-size="8.2" text-anchor="middle" >2</text>
<line x1="433.24" y1="286.20" x2="433.24" y2="284.90" stroke="#2a2a2a" stroke-width="0.8" />
<text x="433.24" y="294.00" font-size="8.2" text-anchor="middle" >4</text>
<line x1="446.06" y1="286.20" x2="446.06" y2="284.90" stroke="#2a2a2a" stroke-width="0.8" />
<text x="446.06" y="294.00" font-size="8.2" text-anchor="middle" >6</text>
<line x1="458.88" y1="286.20" x2="458.88" y2="284.90" stroke="#2a2a2a" stroke-width="0.8" />
<text x="458.88" y="294.00" font-size="8.2" text-anchor="middle" >8</text>
<line x1="471.70" y1="286.20" x2="471.70" y2="284.90" stroke="#2a2a2a" stroke-width="0.8" />
<text x="471.70" y="294.00" font-size="8.2" text-anchor="middle" >10</text>
<polygon points="418.60,282.80 422.50,269.60 426.40,257.00 429.90,244.80 432.20,242.90 435.10,244.30 437.00,251.60 439.00,256.00 441.90,256.90 445.80,257.90 449.70,259.30 454.50,255.50 457.40,254.00 461.30,257.90 465.20,261.30 469.10,260.40 473.90,262.30 473.90,267.30 469.10,265.40 465.20,266.30 461.30,263.90 457.40,262.00 454.50,264.50 449.70,268.30 445.80,265.90 441.90,264.90 439.00,264.00 437.00,260.60 435.10,254.30 432.20,252.90 429.90,253.80 426.40,263.00 422.50,273.60 418.60,283.80" fill="#c8c8fa" opacity="1.0"/>
<polygon points="418.60,282.80 419.60,275.90 422.50,275.00 426.40,273.00 430.20,269.60 434.10,265.20 438.00,261.30 441.90,259.40 445.80,256.80 448.70,259.40 451.60,263.20 454.50,259.90 458.40,259.80 463.30,260.40 467.10,262.30 470.00,260.40 473.90,259.00 473.90,264.00 470.00,265.40 467.10,267.30 463.30,265.40 458.40,264.80 454.50,265.90 451.60,269.20 448.70,266.40 445.80,263.80 441.90,266.40 438.00,268.30 434.10,272.20 430.20,275.60 426.40,278.00 422.50,279.00 419.60,278.90 418.60,283.80" fill="#ffc8f4" opacity="0.9"/>
<polyline points="418.60,283.30 424.40,274.50 428.30,269.70 432.20,262.90 433.70,254.10 436.10,246.40 439.00,242.50 441.90,245.40 445.80,249.30 450.60,252.20 455.50,255.10 459.40,258.00 463.30,261.90 467.10,264.80 471.00,263.80 473.90,264.80" fill="none" stroke="#111" stroke-width="1.3" stroke-linejoin="round" stroke-dasharray="3.4,2.2"/>
<polyline points="418.60,283.30 422.50,271.60 426.40,260.00 429.90,249.30 432.20,247.90 435.10,249.30 437.00,256.10 439.00,260.00 441.90,260.90 445.80,261.90 449.70,263.80 454.50,260.00 457.40,258.00 461.30,260.90 465.20,263.80 469.10,262.90 473.90,264.80" fill="none" stroke="#8a22ff" stroke-width="1.0" stroke-linejoin="round" />
<polyline points="418.60,283.30 419.60,277.40 422.50,277.00 426.40,275.50 430.20,272.60 434.10,268.70 438.00,264.80 441.90,262.90 445.80,260.30 448.70,262.90 451.60,266.20 454.50,262.90 458.40,262.30 463.30,262.90 467.10,264.80 470.00,262.90 473.90,261.50" fill="none" stroke="#ff1a3c" stroke-width="1.0" stroke-linejoin="round" />
<line x1="424.00" y1="282.90" x2="437.00" y2="282.90" stroke="#d2a6ff" stroke-width="1.3" />
<text x="438.20" y="240.70" font-size="9.4" text-anchor="middle" textLength="9.20" lengthAdjust="spacingAndGlyphs" >1a</text>
<text x="451.60" y="247.50" font-size="9.4" text-anchor="middle" textLength="10.00" lengthAdjust="spacingAndGlyphs" >1b</text>
<line x1="514.00" y1="30.60" x2="514.00" y2="159.40" stroke="#8f8f8f" stroke-width="1.3" />
<line x1="514.00" y1="159.40" x2="515.40" y2="159.40" stroke="#2a2a2a" stroke-width="0.8" />
<text x="510.00" y="162.60" font-size="9" text-anchor="end" >2</text>
<line x1="514.00" y1="130.75" x2="515.40" y2="130.75" stroke="#2a2a2a" stroke-width="0.8" />
<text x="510.00" y="133.95" font-size="9" text-anchor="end" >3</text>
<line x1="514.00" y1="102.10" x2="515.40" y2="102.10" stroke="#2a2a2a" stroke-width="0.8" />
<text x="510.00" y="105.30" font-size="9" text-anchor="end" >4</text>
<line x1="514.00" y1="73.45" x2="515.40" y2="73.45" stroke="#2a2a2a" stroke-width="0.8" />
<text x="510.00" y="76.65" font-size="9" text-anchor="end" >5</text>
<line x1="514.00" y1="44.80" x2="515.40" y2="44.80" stroke="#2a2a2a" stroke-width="0.8" />
<text x="510.00" y="48.00" font-size="9" text-anchor="end" >6</text>
<line x1="514.00" y1="159.40" x2="582.00" y2="159.40" stroke="#2a2a2a" stroke-width="1.0" />
<line x1="530.40" y1="159.40" x2="530.40" y2="158.00" stroke="#2a2a2a" stroke-width="0.8" />
<line x1="563.30" y1="159.40" x2="563.30" y2="158.00" stroke="#2a2a2a" stroke-width="0.8" />
<text x="528.90" y="171.40" font-size="9" text-anchor="middle" textLength="22.50" lengthAdjust="spacingAndGlyphs" >Arbac</text>
<text x="561.90" y="171.40" font-size="9" text-anchor="middle" textLength="12.50" lengthAdjust="spacingAndGlyphs" >Sal</text>
<text x="499.60" y="98.50" font-size="9.6" text-anchor="middle" textLength="90.90" lengthAdjust="spacingAndGlyphs" transform="rotate(-90 499.60 98.50)" >Peak 1a frequency (Hz)</text>
<text x="548.30" y="28.90" font-size="9" text-anchor="middle" textLength="31.00" lengthAdjust="spacingAndGlyphs" >p = 0.34</text>
<line x1="530.70" y1="56.30" x2="530.70" y2="73.30" stroke="#555" stroke-width="0.8" />
<line x1="530.70" y1="102.20" x2="530.70" y2="136.30" stroke="#555" stroke-width="0.8" />
<line x1="528.30" y1="56.30" x2="533.10" y2="56.30" stroke="#222" stroke-width="0.8" />
<line x1="528.30" y1="136.30" x2="533.10" y2="136.30" stroke="#222" stroke-width="0.8" />
<rect x="525.35" y="73.30" width="10.70" height="28.90" fill="#c600ff" stroke="#1a1a1a" stroke-width="0.8" />
<line x1="525.75" y1="85.00" x2="535.65" y2="85.00" stroke="#5a007f" stroke-width="1.2" />
<line x1="566.10" y1="61.60" x2="566.10" y2="73.30" stroke="#555" stroke-width="0.8" />
<line x1="566.10" y1="113.40" x2="566.10" y2="125.00" stroke="#555" stroke-width="0.8" />
<line x1="563.70" y1="61.60" x2="568.50" y2="61.60" stroke="#222" stroke-width="0.8" />
<line x1="563.70" y1="125.00" x2="568.50" y2="125.00" stroke="#222" stroke-width="0.8" />
<rect x="560.65" y="73.30" width="10.90" height="40.10" fill="#ff0000" stroke="#1a1a1a" stroke-width="0.8" />
<line x1="561.05" y1="105.20" x2="571.15" y2="105.20" stroke="#8a0000" stroke-width="1.2" />
<circle cx="540.60" cy="55.80" r="1.5" fill="none" stroke="#111" stroke-width="0.75"/>
<circle cx="540.60" cy="67.50" r="1.5" fill="none" stroke="#111" stroke-width="0.75"/>
<circle cx="539.30" cy="73.30" r="1.5" fill="none" stroke="#111" stroke-width="0.75"/>
<circle cx="541.90" cy="73.30" r="1.5" fill="none" stroke="#111" stroke-width="0.75"/>
<circle cx="540.60" cy="79.10" r="1.5" fill="none" stroke="#111" stroke-width="0.75"/>
<circle cx="540.60" cy="90.80" r="1.5" fill="none" stroke="#111" stroke-width="0.75"/>
<circle cx="539.30" cy="102.40" r="1.5" fill="none" stroke="#111" stroke-width="0.75"/>
<circle cx="541.90" cy="102.40" r="1.5" fill="none" stroke="#111" stroke-width="0.75"/>
<circle cx="540.60" cy="113.40" r="1.5" fill="none" stroke="#111" stroke-width="0.75"/>
<circle cx="540.60" cy="136.70" r="1.5" fill="none" stroke="#111" stroke-width="0.75"/>
<circle cx="575.90" cy="61.60" r="1.5" fill="none" stroke="#111" stroke-width="0.75"/>
<circle cx="574.60" cy="73.30" r="1.5" fill="none" stroke="#111" stroke-width="0.75"/>
<circle cx="577.20" cy="73.30" r="1.5" fill="none" stroke="#111" stroke-width="0.75"/>
<circle cx="575.90" cy="79.10" r="1.5" fill="none" stroke="#111" stroke-width="0.75"/>
<circle cx="575.90" cy="101.70" r="1.5" fill="none" stroke="#111" stroke-width="0.75"/>
<circle cx="575.90" cy="107.80" r="1.5" fill="none" stroke="#111" stroke-width="0.75"/>
<circle cx="574.60" cy="113.40" r="1.5" fill="none" stroke="#111" stroke-width="0.75"/>
<circle cx="577.20" cy="113.40" r="1.5" fill="none" stroke="#111" stroke-width="0.75"/>
<circle cx="574.60" cy="125.00" r="1.5" fill="none" stroke="#111" stroke-width="0.75"/>
<circle cx="577.20" cy="125.00" r="1.5" fill="none" stroke="#111" stroke-width="0.75"/>
<line x1="616.40" y1="30.30" x2="616.40" y2="159.40" stroke="#8f8f8f" stroke-width="1.3" />
<line x1="616.40" y1="159.40" x2="617.80" y2="159.40" stroke="#2a2a2a" stroke-width="0.8" />
<text x="612.20" y="162.60" font-size="9" text-anchor="end" >0</text>
<line x1="616.40" y1="116.40" x2="617.80" y2="116.40" stroke="#2a2a2a" stroke-width="0.8" />
<text x="612.20" y="119.60" font-size="9" text-anchor="end" >2</text>
<line x1="616.40" y1="73.40" x2="617.80" y2="73.40" stroke="#2a2a2a" stroke-width="0.8" />
<text x="612.20" y="76.60" font-size="9" text-anchor="end" >4</text>
<line x1="616.40" y1="30.40" x2="617.80" y2="30.40" stroke="#2a2a2a" stroke-width="0.8" />
<text x="612.20" y="33.60" font-size="9" text-anchor="end" >6</text>
<line x1="616.40" y1="159.40" x2="685.00" y2="159.40" stroke="#2a2a2a" stroke-width="1.0" />
<line x1="632.40" y1="159.40" x2="632.40" y2="158.00" stroke="#2a2a2a" stroke-width="0.8" />
<line x1="665.30" y1="159.40" x2="665.30" y2="158.00" stroke="#2a2a2a" stroke-width="0.8" />
<text x="630.90" y="171.40" font-size="9" text-anchor="middle" textLength="22.50" lengthAdjust="spacingAndGlyphs" >Arbac</text>
<text x="663.90" y="171.40" font-size="9" text-anchor="middle" textLength="12.50" lengthAdjust="spacingAndGlyphs" >Sal</text>
<text x="601.40" y="97.40" font-size="9.6" text-anchor="middle" textLength="74.40" lengthAdjust="spacingAndGlyphs" transform="rotate(-90 601.40 97.40)" >Peak 1a power (dB)</text>
<text x="651.50" y="28.90" font-size="9" text-anchor="middle" textLength="31.00" lengthAdjust="spacingAndGlyphs" >p = 0.32</text>
<line x1="632.70" y1="60.50" x2="632.70" y2="80.80" stroke="#555" stroke-width="0.8" />
<line x1="632.70" y1="121.10" x2="632.70" y2="138.10" stroke="#555" stroke-width="0.8" />
<line x1="630.10" y1="60.50" x2="635.30" y2="60.50" stroke="#222" stroke-width="0.8" />
<line x1="630.10" y1="138.10" x2="635.30" y2="138.10" stroke="#222" stroke-width="0.8" />
<rect x="627.50" y="80.80" width="10.40" height="40.30" fill="#c600ff" stroke="#1a1a1a" stroke-width="0.8" />
<line x1="627.90" y1="96.60" x2="637.50" y2="96.60" stroke="#5a007f" stroke-width="1.2" />
<line x1="665.80" y1="85.40" x2="665.80" y2="96.10" stroke="#555" stroke-width="0.8" />
<line x1="665.80" y1="124.60" x2="665.80" y2="126.40" stroke="#555" stroke-width="0.8" />
<line x1="663.20" y1="85.40" x2="668.40" y2="85.40" stroke="#222" stroke-width="0.8" />
<line x1="663.20" y1="126.40" x2="668.40" y2="126.40" stroke="#222" stroke-width="0.8" />
<rect x="660.80" y="96.10" width="10.00" height="28.50" fill="#ff0000" stroke="#1a1a1a" stroke-width="0.8" />
<line x1="661.20" y1="115.70" x2="670.40" y2="115.70" stroke="#8a0000" stroke-width="1.2" />
<circle cx="644.00" cy="60.50" r="1.5" fill="none" stroke="#111" stroke-width="0.75"/>
<circle cx="644.00" cy="75.20" r="1.5" fill="none" stroke="#111" stroke-width="0.75"/>
<circle cx="644.00" cy="80.80" r="1.5" fill="none" stroke="#111" stroke-width="0.75"/>
<circle cx="642.70" cy="93.10" r="1.5" fill="none" stroke="#111" stroke-width="0.75"/>
<circle cx="645.30" cy="93.10" r="1.5" fill="none" stroke="#111" stroke-width="0.75"/>
<circle cx="644.00" cy="96.10" r="1.5" fill="none" stroke="#111" stroke-width="0.75"/>
<circle cx="644.00" cy="98.90" r="1.5" fill="none" stroke="#111" stroke-width="0.75"/>
<circle cx="644.00" cy="105.50" r="1.5" fill="none" stroke="#111" stroke-width="0.75"/>
<circle cx="644.00" cy="121.80" r="1.5" fill="none" stroke="#111" stroke-width="0.75"/>
<circle cx="644.00" cy="131.50" r="1.5" fill="none" stroke="#111" stroke-width="0.75"/>
<circle cx="644.00" cy="138.10" r="1.5" fill="none" stroke="#111" stroke-width="0.75"/>
<circle cx="677.10" cy="85.40" r="1.5" fill="none" stroke="#111" stroke-width="0.75"/>
<circle cx="677.10" cy="92.40" r="1.5" fill="none" stroke="#111" stroke-width="0.75"/>
<circle cx="677.10" cy="95.40" r="1.5" fill="none" stroke="#111" stroke-width="0.75"/>
<circle cx="677.10" cy="98.90" r="1.5" fill="none" stroke="#111" stroke-width="0.75"/>
<circle cx="677.10" cy="108.70" r="1.5" fill="none" stroke="#111" stroke-width="0.75"/>
<circle cx="675.80" cy="121.80" r="1.5" fill="none" stroke="#111" stroke-width="0.75"/>
<circle cx="678.40" cy="121.80" r="1.5" fill="none" stroke="#111" stroke-width="0.75"/>
<circle cx="675.80" cy="124.60" r="1.5" fill="none" stroke="#111" stroke-width="0.75"/>
<circle cx="678.40" cy="124.60" r="1.5" fill="none" stroke="#111" stroke-width="0.75"/>
<circle cx="675.80" cy="126.90" r="1.5" fill="none" stroke="#111" stroke-width="0.75"/>
<circle cx="678.40" cy="126.90" r="1.5" fill="none" stroke="#111" stroke-width="0.75"/>
<rect x="516.00" y="269.80" width="66.80" height="15.40" fill="#b4b4b4" stroke="none" stroke-width="0.8" />
<line x1="515.40" y1="231.00" x2="515.40" y2="360.30" stroke="#8f8f8f" stroke-width="1.3" />
<line x1="515.40" y1="360.30" x2="516.80" y2="360.30" stroke="#2a2a2a" stroke-width="0.8" />
<text x="511.60" y="363.50" font-size="9" text-anchor="end" >2</text>
<line x1="515.40" y1="331.70" x2="516.80" y2="331.70" stroke="#2a2a2a" stroke-width="0.8" />
<text x="511.60" y="334.90" font-size="9" text-anchor="end" >3</text>
<line x1="515.40" y1="303.10" x2="516.80" y2="303.10" stroke="#2a2a2a" stroke-width="0.8" />
<text x="511.60" y="306.30" font-size="9" text-anchor="end" >4</text>
<line x1="515.40" y1="274.50" x2="516.80" y2="274.50" stroke="#2a2a2a" stroke-width="0.8" />
<text x="511.60" y="277.70" font-size="9" text-anchor="end" >5</text>
<line x1="515.40" y1="245.90" x2="516.80" y2="245.90" stroke="#2a2a2a" stroke-width="0.8" />
<text x="511.60" y="249.10" font-size="9" text-anchor="end" >6</text>
<line x1="515.40" y1="360.30" x2="583.70" y2="360.30" stroke="#2a2a2a" stroke-width="1.0" />
<line x1="531.30" y1="360.30" x2="531.30" y2="358.90" stroke="#2a2a2a" stroke-width="0.8" />
<line x1="564.30" y1="360.30" x2="564.30" y2="358.90" stroke="#2a2a2a" stroke-width="0.8" />
<text x="533.00" y="372.90" font-size="9" text-anchor="middle" textLength="22.50" lengthAdjust="spacingAndGlyphs" >Arbac</text>
<text x="564.10" y="372.90" font-size="9" text-anchor="middle" textLength="12.50" lengthAdjust="spacingAndGlyphs" >Sal</text>
<text x="500.60" y="299.60" font-size="9.6" text-anchor="middle" textLength="89.60" lengthAdjust="spacingAndGlyphs" transform="rotate(-90 500.60 299.60)" >Peak 1a frequency (Hz)</text>
<text x="548.50" y="223.80" font-size="9" text-anchor="middle" textLength="31.00" lengthAdjust="spacingAndGlyphs" >p = 0.67</text>
<line x1="531.70" y1="229.70" x2="564.10" y2="229.70" stroke="#222" stroke-width="1.0" />
<text x="534.50" y="244.30" font-size="8.6" text-anchor="middle" textLength="21.30" lengthAdjust="spacingAndGlyphs" >vs WT:</text>
<text x="534.60" y="255.30" font-size="8.6" text-anchor="middle" textLength="27.70" lengthAdjust="spacingAndGlyphs" >p = 8e-4</text>
<text x="569.60" y="244.30" font-size="8.6" text-anchor="middle" textLength="21.50" lengthAdjust="spacingAndGlyphs" >vs WT:</text>
<text x="569.50" y="255.30" font-size="8.6" text-anchor="middle" textLength="28.00" lengthAdjust="spacingAndGlyphs" >p = 9e-3</text>
<line x1="532.10" y1="268.60" x2="532.10" y2="303.10" stroke="#777" stroke-width="0.8" />
<line x1="532.10" y1="320.10" x2="532.10" y2="331.80" stroke="#777" stroke-width="0.8" />
<line x1="529.50" y1="268.60" x2="534.70" y2="268.60" stroke="#222" stroke-width="0.8" />
<line x1="529.50" y1="331.80" x2="534.70" y2="331.80" stroke="#222" stroke-width="0.8" />
<rect x="526.60" y="303.10" width="11.00" height="17.00" fill="#9000ff" stroke="#1a1a1a" stroke-width="0.8" />
<line x1="527.00" y1="308.90" x2="537.20" y2="308.90" stroke="#3d0080" stroke-width="1.2" />
<line x1="564.30" y1="268.60" x2="564.30" y2="285.60" stroke="#555" stroke-width="0.8" />
<line x1="564.30" y1="336.90" x2="564.30" y2="343.90" stroke="#555" stroke-width="0.8" />
<line x1="561.70" y1="268.60" x2="566.90" y2="268.60" stroke="#222" stroke-width="0.8" />
<line x1="561.70" y1="343.90" x2="566.90" y2="343.90" stroke="#222" stroke-width="0.8" />
<rect x="559.15" y="285.60" width="10.30" height="51.30" fill="#ff0000" stroke="#1a1a1a" stroke-width="0.8" />
<line x1="559.55" y1="303.10" x2="569.05" y2="303.10" stroke="#8a0000" stroke-width="1.2" />
<circle cx="542.80" cy="268.60" r="1.5" fill="none" stroke="#111" stroke-width="0.75"/>
<circle cx="542.80" cy="290.80" r="1.5" fill="none" stroke="#111" stroke-width="0.75"/>
<circle cx="542.80" cy="296.80" r="1.5" fill="none" stroke="#111" stroke-width="0.75"/>
<circle cx="540.20" cy="303.10" r="1.5" fill="none" stroke="#111" stroke-width="0.75"/>
<circle cx="542.80" cy="303.10" r="1.5" fill="none" stroke="#111" stroke-width="0.75"/>
<circle cx="545.40" cy="303.10" r="1.5" fill="none" stroke="#111" stroke-width="0.75"/>
<circle cx="540.20" cy="308.90" r="1.5" fill="none" stroke="#111" stroke-width="0.75"/>
<circle cx="542.80" cy="308.90" r="1.5" fill="none" stroke="#111" stroke-width="0.75"/>
<circle cx="545.40" cy="308.90" r="1.5" fill="none" stroke="#111" stroke-width="0.75"/>
<circle cx="542.80" cy="314.80" r="1.5" fill="none" stroke="#111" stroke-width="0.75"/>
<circle cx="541.50" cy="320.10" r="1.5" fill="none" stroke="#111" stroke-width="0.75"/>
<circle cx="544.10" cy="320.10" r="1.5" fill="none" stroke="#111" stroke-width="0.75"/>
<circle cx="542.80" cy="325.90" r="1.5" fill="none" stroke="#111" stroke-width="0.75"/>
<circle cx="542.80" cy="331.80" r="1.5" fill="none" stroke="#111" stroke-width="0.75"/>
<circle cx="575.50" cy="268.60" r="1.5" fill="none" stroke="#111" stroke-width="0.75"/>
<circle cx="575.50" cy="274.00" r="1.5" fill="none" stroke="#111" stroke-width="0.75"/>
<circle cx="575.50" cy="279.80" r="1.5" fill="none" stroke="#111" stroke-width="0.75"/>
<circle cx="572.90" cy="285.60" r="1.5" fill="none" stroke="#111" stroke-width="0.75"/>
<circle cx="575.50" cy="285.60" r="1.5" fill="none" stroke="#111" stroke-width="0.75"/>
<circle cx="578.10" cy="285.60" r="1.5" fill="none" stroke="#111" stroke-width="0.75"/>
<circle cx="574.20" cy="303.10" r="1.5" fill="none" stroke="#111" stroke-width="0.75"/>
<circle cx="576.80" cy="303.10" r="1.5" fill="none" stroke="#111" stroke-width="0.75"/>
<circle cx="575.50" cy="314.80" r="1.5" fill="none" stroke="#111" stroke-width="0.75"/>
<circle cx="575.50" cy="320.10" r="1.5" fill="none" stroke="#111" stroke-width="0.75"/>
<circle cx="574.20" cy="336.90" r="1.5" fill="none" stroke="#111" stroke-width="0.75"/>
<circle cx="576.80" cy="336.90" r="1.5" fill="none" stroke="#111" stroke-width="0.75"/>
<circle cx="574.20" cy="342.70" r="1.5" fill="none" stroke="#111" stroke-width="0.75"/>
<circle cx="576.80" cy="342.70" r="1.5" fill="none" stroke="#111" stroke-width="0.75"/>
<rect x="506.10" y="379.30" width="13.30" height="5.30" fill="#b4b4b4" stroke="none" stroke-width="0.8" />
<text x="520.50" y="385.20" font-size="9" textLength="63.00" lengthAdjust="spacingAndGlyphs" >WT + Saline IQR</text>
<rect x="616.60" y="283.50" width="68.40" height="24.60" fill="#b4b4b4" stroke="none" stroke-width="0.8" />
<line x1="616.00" y1="230.90" x2="616.00" y2="360.10" stroke="#8f8f8f" stroke-width="1.3" />
<line x1="616.00" y1="353.50" x2="617.40" y2="353.50" stroke="#2a2a2a" stroke-width="0.8" />
<text x="612.10" y="356.70" font-size="9" text-anchor="end" >0</text>
<line x1="616.00" y1="326.40" x2="617.40" y2="326.40" stroke="#2a2a2a" stroke-width="0.8" />
<text x="612.10" y="329.60" font-size="9" text-anchor="end" >2</text>
<line x1="616.00" y1="299.30" x2="617.40" y2="299.30" stroke="#2a2a2a" stroke-width="0.8" />
<text x="612.10" y="302.50" font-size="9" text-anchor="end" >4</text>
<line x1="616.00" y1="272.20" x2="617.40" y2="272.20" stroke="#2a2a2a" stroke-width="0.8" />
<text x="612.10" y="275.40" font-size="9" text-anchor="end" >6</text>
<line x1="616.00" y1="245.10" x2="617.40" y2="245.10" stroke="#2a2a2a" stroke-width="0.8" />
<text x="612.10" y="248.30" font-size="9" text-anchor="end" >8</text>
<line x1="616.00" y1="360.10" x2="685.00" y2="360.10" stroke="#2a2a2a" stroke-width="1.0" />
<line x1="632.20" y1="360.10" x2="632.20" y2="358.70" stroke="#2a2a2a" stroke-width="0.8" />
<line x1="664.70" y1="360.10" x2="664.70" y2="358.70" stroke="#2a2a2a" stroke-width="0.8" />
<text x="633.90" y="372.80" font-size="9" text-anchor="middle" textLength="22.50" lengthAdjust="spacingAndGlyphs" >Arbac</text>
<text x="665.00" y="372.80" font-size="9" text-anchor="middle" textLength="12.50" lengthAdjust="spacingAndGlyphs" >Sal</text>
<text x="601.50" y="298.90" font-size="9.6" text-anchor="middle" textLength="74.40" lengthAdjust="spacingAndGlyphs" transform="rotate(-90 601.50 298.90)" >Peak 1a power (dB)</text>
<text x="650.80" y="223.80" font-size="9" text-anchor="middle" textLength="41.00" lengthAdjust="spacingAndGlyphs" >p = 9.2 e-3</text>
<line x1="632.40" y1="229.60" x2="667.90" y2="229.60" stroke="#222" stroke-width="1.0" />
<text x="635.60" y="243.20" font-size="8.6" text-anchor="middle" textLength="22.00" lengthAdjust="spacingAndGlyphs" >vs WT:</text>
<text x="635.20" y="253.60" font-size="8.6" text-anchor="middle" textLength="28.00" lengthAdjust="spacingAndGlyphs" >p = 0.36</text>
<text x="671.20" y="243.20" font-size="8.6" text-anchor="middle" textLength="22.30" lengthAdjust="spacingAndGlyphs" >vs WT:</text>
<text x="671.50" y="253.60" font-size="8.6" text-anchor="middle" textLength="27.00" lengthAdjust="spacingAndGlyphs" >p = 0.01</text>
<line x1="632.40" y1="260.70" x2="632.40" y2="294.40" stroke="#2a2a2a" stroke-width="0.8" />
<line x1="632.40" y1="318.40" x2="632.40" y2="337.90" stroke="#2a2a2a" stroke-width="0.8" />
<line x1="629.80" y1="260.70" x2="635.00" y2="260.70" stroke="#222" stroke-width="0.8" />
<line x1="629.80" y1="337.90" x2="635.00" y2="337.90" stroke="#222" stroke-width="0.8" />
<rect x="627.25" y="294.40" width="10.30" height="24.00" fill="#9000ff" stroke="#1a1a1a" stroke-width="0.8" />
<line x1="627.65" y1="314.00" x2="637.15" y2="314.00" stroke="#3d0080" stroke-width="1.2" />
<line x1="667.90" y1="271.10" x2="667.90" y2="310.20" stroke="#2a2a2a" stroke-width="0.8" />
<line x1="667.90" y1="336.60" x2="667.90" y2="350.30" stroke="#2a2a2a" stroke-width="0.8" />
<line x1="665.30" y1="271.10" x2="670.50" y2="271.10" stroke="#222" stroke-width="0.8" />
<line x1="665.30" y1="350.30" x2="670.50" y2="350.30" stroke="#222" stroke-width="0.8" />
<rect x="662.70" y="310.20" width="10.40" height="26.40" fill="#ff0000" stroke="#1a1a1a" stroke-width="0.8" />
<line x1="663.10" y1="328.30" x2="672.70" y2="328.30" stroke="#8a0000" stroke-width="1.2" />
<circle cx="640.70" cy="260.70" r="1.5" fill="none" stroke="#111" stroke-width="0.75"/>
<circle cx="643.30" cy="260.70" r="1.5" fill="none" stroke="#111" stroke-width="0.75"/>
<circle cx="642.00" cy="263.30" r="1.5" fill="none" stroke="#111" stroke-width="0.75"/>
<circle cx="642.00" cy="293.80" r="1.5" fill="none" stroke="#111" stroke-width="0.75"/>
<circle cx="640.70" cy="300.30" r="1.5" fill="none" stroke="#111" stroke-width="0.75"/>
<circle cx="643.30" cy="300.30" r="1.5" fill="none" stroke="#111" stroke-width="0.75"/>
<circle cx="642.00" cy="312.00" r="1.5" fill="none" stroke="#111" stroke-width="0.75"/>
<circle cx="642.00" cy="315.10" r="1.5" fill="none" stroke="#111" stroke-width="0.75"/>
<circle cx="640.70" cy="317.10" r="1.5" fill="none" stroke="#111" stroke-width="0.75"/>
<circle cx="643.30" cy="317.10" r="1.5" fill="none" stroke="#111" stroke-width="0.75"/>
<circle cx="642.00" cy="319.70" r="1.5" fill="none" stroke="#111" stroke-width="0.75"/>
<circle cx="642.00" cy="324.90" r="1.5" fill="none" stroke="#111" stroke-width="0.75"/>
<circle cx="642.00" cy="328.80" r="1.5" fill="none" stroke="#111" stroke-width="0.75"/>
<circle cx="642.00" cy="337.90" r="1.5" fill="none" stroke="#111" stroke-width="0.75"/>
<circle cx="677.00" cy="271.10" r="1.5" fill="none" stroke="#111" stroke-width="0.75"/>
<circle cx="677.00" cy="299.00" r="1.5" fill="none" stroke="#111" stroke-width="0.75"/>
<circle cx="677.00" cy="302.10" r="1.5" fill="none" stroke="#111" stroke-width="0.75"/>
<circle cx="677.00" cy="309.40" r="1.5" fill="none" stroke="#111" stroke-width="0.75"/>
<circle cx="677.00" cy="313.30" r="1.5" fill="none" stroke="#111" stroke-width="0.75"/>
<circle cx="677.00" cy="317.10" r="1.5" fill="none" stroke="#111" stroke-width="0.75"/>
<circle cx="677.00" cy="321.00" r="1.5" fill="none" stroke="#111" stroke-width="0.75"/>
<circle cx="675.70" cy="330.10" r="1.5" fill="none" stroke="#111" stroke-width="0.75"/>
<circle cx="678.30" cy="330.10" r="1.5" fill="none" stroke="#111" stroke-width="0.75"/>
<circle cx="675.70" cy="333.20" r="1.5" fill="none" stroke="#111" stroke-width="0.75"/>
<circle cx="678.30" cy="333.20" r="1.5" fill="none" stroke="#111" stroke-width="0.75"/>
<circle cx="677.00" cy="336.60" r="1.5" fill="none" stroke="#111" stroke-width="0.75"/>
<circle cx="677.00" cy="343.00" r="1.5" fill="none" stroke="#111" stroke-width="0.75"/>
<circle cx="677.00" cy="346.10" r="1.5" fill="none" stroke="#111" stroke-width="0.75"/>
<circle cx="677.00" cy="349.50" r="1.5" fill="none" stroke="#111" stroke-width="0.75"/>
<rect x="608.90" y="379.30" width="12.60" height="5.30" fill="#b4b4b4" stroke="none" stroke-width="0.8" />
<text x="621.60" y="385.20" font-size="9" textLength="63.40" lengthAdjust="spacingAndGlyphs" >WT + Saline IQR</text>
</svg></body></html>
